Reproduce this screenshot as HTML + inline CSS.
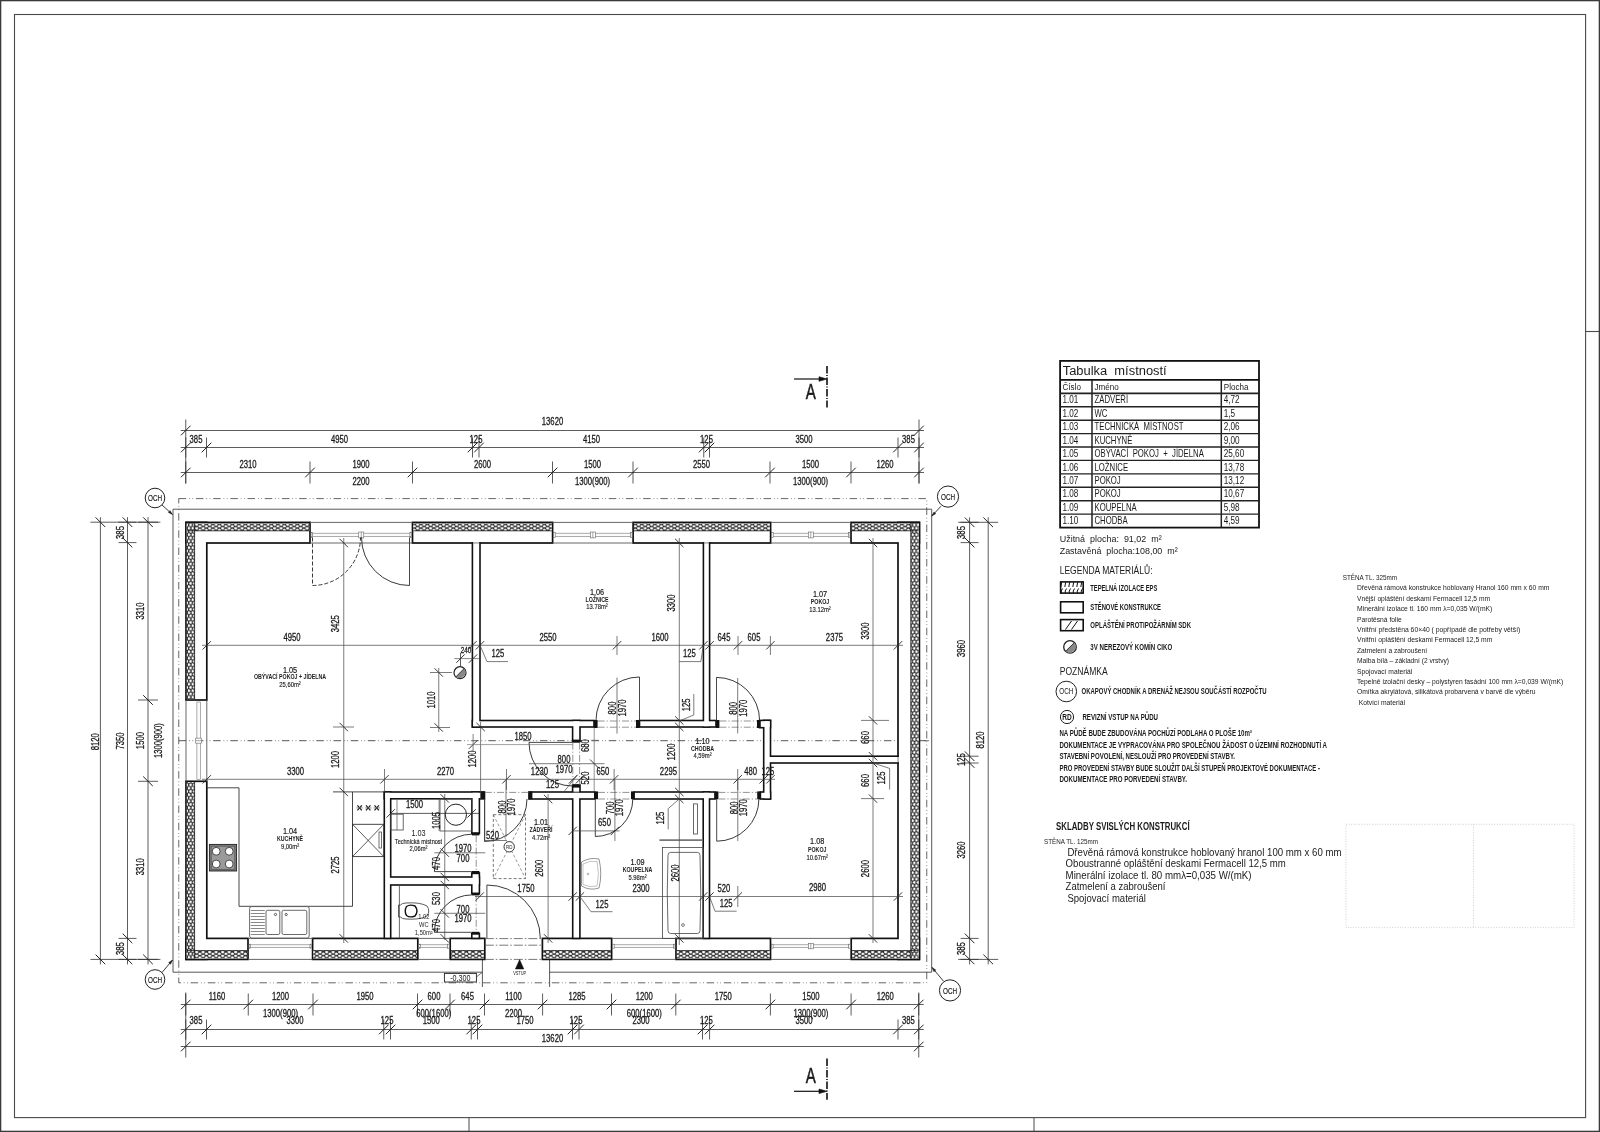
<!DOCTYPE html><html><head><meta charset="utf-8"><title>Půdorys</title><style>html,body{margin:0;padding:0;background:#fff;}svg{display:block;will-change:transform;}</style></head><body>
<svg width="1600" height="1132" viewBox="0 0 1600 1132">
<defs><pattern id="ins" x="0" y="2.31" width="6.5" height="3.75" patternUnits="userSpaceOnUse"><rect width="6.5" height="3.75" fill="#2a2a2a"/><circle cx="1.625" cy="0.9375" r="1.5" fill="#fff"/><circle cx="4.875" cy="2.8125" r="1.5" fill="#fff"/></pattern><pattern id="insv" x="0.4" y="0" width="3.75" height="6.5" patternUnits="userSpaceOnUse"><rect width="3.75" height="6.5" fill="#2a2a2a"/><circle cy="1.625" cx="0.9375" r="1.5" fill="#fff"/><circle cy="4.875" cx="2.8125" r="1.5" fill="#fff"/></pattern><pattern id="leg" x="0" y="0" width="4" height="12" patternUnits="userSpaceOnUse"><rect width="4" height="12" fill="#fff"/><path d="M0.8 11 Q2.2 6 1.2 3 L2.6 0.5" stroke="#111" stroke-width="1.0" fill="none"/></pattern></defs>
<rect width="1600" height="1132" fill="#fff"/>
<rect x="0.6" y="0.6" width="1598.8" height="1130.8" fill="none" stroke="#3a3a3a" stroke-width="1.4"/>
<rect x="14.5" y="14.5" width="1571.1" height="1103.1" fill="none" stroke="#4a4a4a" stroke-width="1.1"/>
<line x1="469" y1="1117.6" x2="469" y2="1131" stroke="#4a4a4a" stroke-width="1" stroke-linecap="butt"/>
<line x1="1034" y1="1117.6" x2="1034" y2="1131" stroke="#4a4a4a" stroke-width="1" stroke-linecap="butt"/>
<line x1="1585.6" y1="331.5" x2="1599" y2="331.5" stroke="#4a4a4a" stroke-width="1.1" stroke-linecap="butt"/>
<path d="M178.75 498.6 H926.75 V982.8 H178.75 Z" fill="none" stroke="#555" stroke-width="0.9" stroke-dasharray="7.5 2.9 0.7 2.6 0.7 2.8"/>
<path d="M482.4 972.2 H173 V509.2 H931.7 V972.2 H549.6" fill="none" stroke="#444" stroke-width="0.9"/>
<line x1="482.4" y1="959.4" x2="482.4" y2="987" stroke="#444" stroke-width="0.9" stroke-linecap="butt"/>
<line x1="549.6" y1="959.4" x2="549.6" y2="987" stroke="#444" stroke-width="0.9" stroke-linecap="butt"/>
<line x1="178.75" y1="740.7" x2="927" y2="740.7" stroke="#444" stroke-width="0.9" stroke-dasharray="7.5 2.9 0.7 2.6 0.7 2.8" stroke-linecap="butt"/>
<line x1="924" y1="740.7" x2="929" y2="740.7" stroke="#555" stroke-width="0.8" stroke-linecap="butt"/>
<rect x="185.15" y="521.55" width="125.7" height="22.3" fill="#111"/>
<rect x="411.65" y="521.55" width="141.8" height="22.3" fill="#111"/>
<rect x="632.25" y="521.55" width="139.2" height="22.3" fill="#111"/>
<rect x="850.15" y="521.55" width="70.1" height="22.3" fill="#111"/>
<rect x="185.15" y="937.55" width="63.7" height="22.7" fill="#111"/>
<rect x="311.75" y="937.55" width="106.9" height="22.7" fill="#111"/>
<rect x="449.35" y="937.55" width="36.3" height="22.7" fill="#111"/>
<rect x="541.55" y="937.55" width="70.9" height="22.7" fill="#111"/>
<rect x="675.15" y="937.55" width="96.2" height="22.7" fill="#111"/>
<rect x="850.35" y="937.55" width="69.9" height="22.7" fill="#111"/>
<rect x="185.15" y="521.55" width="22.5" height="179.3" fill="#111"/>
<rect x="185.15" y="780.45" width="22.5" height="179.8" fill="#111"/>
<rect x="897.15" y="521.55" width="23.1" height="438.7" fill="#111"/>
<rect x="186.85" y="523.25" width="122.3" height="18.9" fill="#fff"/>
<rect x="413.35" y="523.25" width="138.4" height="18.9" fill="#fff"/>
<rect x="633.95" y="523.25" width="135.8" height="18.9" fill="#fff"/>
<rect x="851.85" y="523.25" width="66.7" height="18.9" fill="#fff"/>
<rect x="186.85" y="939.25" width="60.3" height="19.3" fill="#fff"/>
<rect x="313.45" y="939.25" width="103.5" height="19.3" fill="#fff"/>
<rect x="451.05" y="939.25" width="32.9" height="19.3" fill="#fff"/>
<rect x="543.25" y="939.25" width="67.5" height="19.3" fill="#fff"/>
<rect x="676.85" y="939.25" width="92.8" height="19.3" fill="#fff"/>
<rect x="852.05" y="939.25" width="66.5" height="19.3" fill="#fff"/>
<rect x="186.85" y="523.25" width="19.1" height="175.9" fill="#fff"/>
<rect x="186.85" y="782.15" width="19.1" height="176.4" fill="#fff"/>
<rect x="898.85" y="523.25" width="19.7" height="435.3" fill="#fff"/>
<rect x="186.85" y="523.25" width="122.3" height="7.55" fill="url(#ins)"/>
<rect x="413.35" y="523.25" width="138.4" height="7.55" fill="url(#ins)"/>
<rect x="633.95" y="523.25" width="135.8" height="7.55" fill="url(#ins)"/>
<rect x="851.85" y="523.25" width="66.7" height="7.55" fill="url(#ins)"/>
<rect x="186.85" y="950.6" width="60.3" height="7.95" fill="url(#ins)"/>
<rect x="313.45" y="950.6" width="103.5" height="7.95" fill="url(#ins)"/>
<rect x="451.05" y="950.6" width="32.9" height="7.95" fill="url(#ins)"/>
<rect x="543.25" y="950.6" width="67.5" height="7.95" fill="url(#ins)"/>
<rect x="676.85" y="950.6" width="92.8" height="7.95" fill="url(#ins)"/>
<rect x="852.05" y="950.6" width="66.5" height="7.95" fill="url(#ins)"/>
<rect x="186.85" y="523.25" width="7.75" height="175.9" fill="url(#insv)"/>
<rect x="186.85" y="782.15" width="7.75" height="176.4" fill="url(#insv)"/>
<rect x="910.8" y="523.25" width="7.75" height="435.3" fill="url(#insv)"/>
<line x1="186.85" y1="530.8" x2="309.15" y2="530.8" stroke="#111" stroke-width="0.8" stroke-linecap="butt"/>
<line x1="413.35" y1="530.8" x2="551.75" y2="530.8" stroke="#111" stroke-width="0.8" stroke-linecap="butt"/>
<line x1="633.95" y1="530.8" x2="769.75" y2="530.8" stroke="#111" stroke-width="0.8" stroke-linecap="butt"/>
<line x1="851.85" y1="530.8" x2="918.55" y2="530.8" stroke="#111" stroke-width="0.8" stroke-linecap="butt"/>
<line x1="186.85" y1="950.6" x2="247.15" y2="950.6" stroke="#111" stroke-width="0.8" stroke-linecap="butt"/>
<line x1="313.45" y1="950.6" x2="416.95" y2="950.6" stroke="#111" stroke-width="0.8" stroke-linecap="butt"/>
<line x1="451.05" y1="950.6" x2="483.95" y2="950.6" stroke="#111" stroke-width="0.8" stroke-linecap="butt"/>
<line x1="543.25" y1="950.6" x2="610.75" y2="950.6" stroke="#111" stroke-width="0.8" stroke-linecap="butt"/>
<line x1="676.85" y1="950.6" x2="769.65" y2="950.6" stroke="#111" stroke-width="0.8" stroke-linecap="butt"/>
<line x1="852.05" y1="950.6" x2="918.55" y2="950.6" stroke="#111" stroke-width="0.8" stroke-linecap="butt"/>
<line x1="194.6" y1="523.25" x2="194.6" y2="699.15" stroke="#111" stroke-width="0.8" stroke-linecap="butt"/>
<line x1="194.6" y1="782.15" x2="194.6" y2="958.55" stroke="#111" stroke-width="0.8" stroke-linecap="butt"/>
<line x1="910.8" y1="523.25" x2="910.8" y2="958.55" stroke="#111" stroke-width="0.8" stroke-linecap="butt"/>
<line x1="310" y1="522.4" x2="412.5" y2="522.4" stroke="#555" stroke-width="0.9" stroke-linecap="butt"/>
<line x1="310" y1="543" x2="412.5" y2="543" stroke="#555" stroke-width="0.9" stroke-linecap="butt"/>
<rect x="312" y="533.2" width="98.5" height="3.5" fill="#fbfbfb" stroke="#777" stroke-width="0.6"/>
<rect x="311" y="532.6" width="1.6" height="4.7" fill="#fff" stroke="#666" stroke-width="0.6"/>
<rect x="409.9" y="532.6" width="1.6" height="4.7" fill="#fff" stroke="#666" stroke-width="0.6"/>
<rect x="358.75" y="532" width="5" height="5.9" fill="#fff" stroke="#666" stroke-width="0.6"/>
<line x1="361.25" y1="532" x2="361.25" y2="537.9" stroke="#666" stroke-width="0.6" stroke-linecap="butt"/>
<line x1="552.6" y1="522.4" x2="633.1" y2="522.4" stroke="#555" stroke-width="0.9" stroke-linecap="butt"/>
<line x1="552.6" y1="543" x2="633.1" y2="543" stroke="#555" stroke-width="0.9" stroke-linecap="butt"/>
<rect x="554.6" y="533.2" width="76.5" height="3.5" fill="#fbfbfb" stroke="#777" stroke-width="0.6"/>
<rect x="553.6" y="532.6" width="1.6" height="4.7" fill="#fff" stroke="#666" stroke-width="0.6"/>
<rect x="630.5" y="532.6" width="1.6" height="4.7" fill="#fff" stroke="#666" stroke-width="0.6"/>
<rect x="590.35" y="532" width="5" height="5.9" fill="#fff" stroke="#666" stroke-width="0.6"/>
<line x1="592.85" y1="532" x2="592.85" y2="537.9" stroke="#666" stroke-width="0.6" stroke-linecap="butt"/>
<line x1="770.6" y1="522.4" x2="851" y2="522.4" stroke="#555" stroke-width="0.9" stroke-linecap="butt"/>
<line x1="770.6" y1="543" x2="851" y2="543" stroke="#555" stroke-width="0.9" stroke-linecap="butt"/>
<rect x="772.6" y="533.2" width="76.4" height="3.5" fill="#fbfbfb" stroke="#777" stroke-width="0.6"/>
<rect x="771.6" y="532.6" width="1.6" height="4.7" fill="#fff" stroke="#666" stroke-width="0.6"/>
<rect x="848.4" y="532.6" width="1.6" height="4.7" fill="#fff" stroke="#666" stroke-width="0.6"/>
<rect x="808.3" y="532" width="5" height="5.9" fill="#fff" stroke="#666" stroke-width="0.6"/>
<line x1="810.8" y1="532" x2="810.8" y2="537.9" stroke="#666" stroke-width="0.6" stroke-linecap="butt"/>
<line x1="186" y1="700" x2="186" y2="781.3" stroke="#555" stroke-width="0.9" stroke-linecap="butt"/>
<line x1="206.8" y1="700" x2="206.8" y2="781.3" stroke="#555" stroke-width="0.9" stroke-linecap="butt"/>
<rect x="196.9" y="702" width="3.4" height="77.3" fill="#fbfbfb" stroke="#777" stroke-width="0.6"/>
<rect x="195.7" y="738.15" width="5.8" height="5" fill="#fff" stroke="#666" stroke-width="0.6"/>
<line x1="195.7" y1="740.65" x2="201.5" y2="740.65" stroke="#666" stroke-width="0.6" stroke-linecap="butt"/>
<line x1="248" y1="938.4" x2="312.6" y2="938.4" stroke="#555" stroke-width="0.9" stroke-linecap="butt"/>
<line x1="248" y1="959.4" x2="312.6" y2="959.4" stroke="#555" stroke-width="0.9" stroke-linecap="butt"/>
<rect x="250" y="944.8" width="60.6" height="2.8" fill="#fbfbfb" stroke="#777" stroke-width="0.6"/>
<rect x="249" y="944.2" width="1.6" height="4" fill="#fff" stroke="#666" stroke-width="0.6"/>
<rect x="310" y="944.2" width="1.6" height="4" fill="#fff" stroke="#666" stroke-width="0.6"/>
<line x1="417.8" y1="938.4" x2="450.2" y2="938.4" stroke="#555" stroke-width="0.9" stroke-linecap="butt"/>
<line x1="417.8" y1="959.4" x2="450.2" y2="959.4" stroke="#555" stroke-width="0.9" stroke-linecap="butt"/>
<rect x="419.8" y="944.8" width="28.4" height="2.8" fill="#fbfbfb" stroke="#777" stroke-width="0.6"/>
<rect x="418.8" y="944.2" width="1.6" height="4" fill="#fff" stroke="#666" stroke-width="0.6"/>
<rect x="447.6" y="944.2" width="1.6" height="4" fill="#fff" stroke="#666" stroke-width="0.6"/>
<line x1="611.6" y1="938.4" x2="676" y2="938.4" stroke="#555" stroke-width="0.9" stroke-linecap="butt"/>
<line x1="611.6" y1="959.4" x2="676" y2="959.4" stroke="#555" stroke-width="0.9" stroke-linecap="butt"/>
<rect x="613.6" y="944.8" width="60.4" height="2.8" fill="#fbfbfb" stroke="#777" stroke-width="0.6"/>
<rect x="612.6" y="944.2" width="1.6" height="4" fill="#fff" stroke="#666" stroke-width="0.6"/>
<rect x="673.4" y="944.2" width="1.6" height="4" fill="#fff" stroke="#666" stroke-width="0.6"/>
<line x1="770.5" y1="938.4" x2="851.2" y2="938.4" stroke="#555" stroke-width="0.9" stroke-linecap="butt"/>
<line x1="770.5" y1="959.4" x2="851.2" y2="959.4" stroke="#555" stroke-width="0.9" stroke-linecap="butt"/>
<rect x="772.5" y="944.8" width="76.7" height="2.8" fill="#fbfbfb" stroke="#777" stroke-width="0.6"/>
<rect x="771.5" y="944.2" width="1.6" height="4" fill="#fff" stroke="#666" stroke-width="0.6"/>
<rect x="848.6" y="944.2" width="1.6" height="4" fill="#fff" stroke="#666" stroke-width="0.6"/>
<rect x="808.35" y="943.6" width="5" height="5.2" fill="#fff" stroke="#666" stroke-width="0.6"/>
<line x1="810.85" y1="943.6" x2="810.85" y2="948.8" stroke="#666" stroke-width="0.6" stroke-linecap="butt"/>
<line x1="484.8" y1="938.6" x2="542.4" y2="938.6" stroke="#555" stroke-width="0.8" stroke-dasharray="9 2 1.5 2" stroke-linecap="butt"/>
<line x1="484.8" y1="945.2" x2="542.4" y2="945.2" stroke="#555" stroke-width="0.8" stroke-dasharray="9 2 1.5 2" stroke-linecap="butt"/>
<line x1="484.8" y1="959.4" x2="542.4" y2="959.4" stroke="#555" stroke-width="0.8" stroke-dasharray="9 2 1.5 2" stroke-linecap="butt"/>
<rect x="471.6" y="542.2" width="9.2" height="185.6" fill="#111"/>
<rect x="471.6" y="719.7" width="123.2" height="8.1" fill="#111"/>
<rect x="571.8" y="719.7" width="9" height="22.6" fill="#111"/>
<rect x="638.7" y="719.7" width="78.1" height="8.1" fill="#111"/>
<rect x="702.6" y="542.2" width="7.8" height="185.6" fill="#111"/>
<rect x="758.8" y="719.6" width="12.5" height="8.9" fill="#111"/>
<rect x="762.9" y="719.6" width="8.4" height="80.2" fill="#111"/>
<rect x="764.2" y="755.4" width="134.6" height="8.4" fill="#111"/>
<rect x="759.6" y="791.2" width="11.7" height="8.6" fill="#111"/>
<rect x="571.8" y="784.2" width="9" height="9.1" fill="#111"/>
<rect x="383.5" y="791.2" width="101.8" height="8.4" fill="#111"/>
<rect x="528.2" y="791.2" width="67.4" height="8.6" fill="#111"/>
<rect x="633.2" y="791.2" width="82.6" height="8.6" fill="#111"/>
<rect x="383.5" y="791.2" width="8" height="148" fill="#111"/>
<rect x="385.2" y="876.2" width="95" height="9.6" fill="#111"/>
<rect x="471" y="791.2" width="9.2" height="42.9" fill="#111"/>
<rect x="471" y="872.2" width="9.2" height="22.3" fill="#111"/>
<rect x="471" y="932.7" width="9.2" height="6.5" fill="#111"/>
<rect x="571.9" y="791.2" width="8.8" height="148" fill="#111"/>
<rect x="702.4" y="791.2" width="7.9" height="148" fill="#111"/>
<rect x="473.2" y="543.8" width="6" height="182.4" fill="#fff"/>
<rect x="473.2" y="721.3" width="120" height="4.9" fill="#fff"/>
<rect x="573.4" y="721.3" width="5.8" height="19.4" fill="#fff"/>
<rect x="640.3" y="721.3" width="74.9" height="4.9" fill="#fff"/>
<rect x="704.2" y="543.8" width="4.6" height="182.4" fill="#fff"/>
<rect x="760.4" y="721.2" width="9.3" height="5.7" fill="#fff"/>
<rect x="764.5" y="721.2" width="5.2" height="77" fill="#fff"/>
<rect x="765.8" y="757" width="131.4" height="5.2" fill="#fff"/>
<rect x="761.2" y="792.8" width="8.5" height="5.4" fill="#fff"/>
<rect x="573.4" y="785.8" width="5.8" height="5.9" fill="#fff"/>
<rect x="385.1" y="792.8" width="98.6" height="5.2" fill="#fff"/>
<rect x="529.8" y="792.8" width="64.2" height="5.4" fill="#fff"/>
<rect x="634.8" y="792.8" width="79.4" height="5.4" fill="#fff"/>
<rect x="385.1" y="792.8" width="4.8" height="144.8" fill="#fff"/>
<rect x="386.8" y="877.8" width="91.8" height="6.4" fill="#fff"/>
<rect x="472.6" y="792.8" width="6" height="39.7" fill="#fff"/>
<rect x="472.6" y="873.8" width="6" height="19.1" fill="#fff"/>
<rect x="472.6" y="934.3" width="6" height="3.3" fill="#fff"/>
<rect x="573.5" y="792.8" width="5.6" height="144.8" fill="#fff"/>
<rect x="704" y="792.8" width="4.7" height="144.8" fill="#fff"/>
<rect x="473.2" y="541.9" width="6" height="2.2" fill="#fff" fill-opacity="0.7"/>
<rect x="704.2" y="541.9" width="4.6" height="2.2" fill="#fff" fill-opacity="0.7"/>
<rect x="896.9" y="757" width="2.2" height="5.2" fill="#fff" fill-opacity="0.7"/>
<rect x="594" y="720" width="3.6" height="8" fill="#111"/>
<rect x="636" y="720" width="3.6" height="8" fill="#111"/>
<rect x="716" y="720" width="3.4" height="8" fill="#111"/>
<rect x="757" y="720" width="3.6" height="8" fill="#111"/>
<rect x="572.6" y="739.6" width="7.4" height="3" fill="#111"/>
<rect x="572.6" y="784.6" width="7.4" height="3" fill="#111"/>
<rect x="480.6" y="791.4" width="4.2" height="7.8" fill="#111"/>
<rect x="528.6" y="791.4" width="3.8" height="7.8" fill="#111"/>
<rect x="594.4" y="791.4" width="3.6" height="7.8" fill="#111"/>
<rect x="631" y="791.4" width="3.6" height="7.8" fill="#111"/>
<rect x="714.8" y="791.4" width="3.6" height="7.8" fill="#111"/>
<rect x="757.2" y="791.4" width="3.6" height="7.8" fill="#111"/>
<rect x="471.8" y="832.4" width="7.6" height="3" fill="#111"/>
<rect x="471.8" y="871" width="7.6" height="3.2" fill="#111"/>
<rect x="471.8" y="892.6" width="7.6" height="2.8" fill="#111"/>
<rect x="471.8" y="931.8" width="7.6" height="2.8" fill="#111"/>
<line x1="597.6" y1="721" x2="636" y2="721" stroke="#666" stroke-width="0.7" stroke-dasharray="7 2 1.2 2" stroke-linecap="butt"/>
<line x1="597.6" y1="727.2" x2="636" y2="727.2" stroke="#666" stroke-width="0.7" stroke-dasharray="7 2 1.2 2" stroke-linecap="butt"/>
<line x1="719.4" y1="721" x2="757" y2="721" stroke="#666" stroke-width="0.7" stroke-dasharray="7 2 1.2 2" stroke-linecap="butt"/>
<line x1="719.4" y1="727.2" x2="757" y2="727.2" stroke="#666" stroke-width="0.7" stroke-dasharray="7 2 1.2 2" stroke-linecap="butt"/>
<line x1="484.8" y1="792.4" x2="528.6" y2="792.4" stroke="#666" stroke-width="0.7" stroke-dasharray="7 2 1.2 2" stroke-linecap="butt"/>
<line x1="598" y1="792.4" x2="631" y2="792.4" stroke="#666" stroke-width="0.7" stroke-dasharray="7 2 1.2 2" stroke-linecap="butt"/>
<line x1="598" y1="799" x2="631" y2="799" stroke="#666" stroke-width="0.7" stroke-dasharray="7 2 1.2 2" stroke-linecap="butt"/>
<line x1="718.4" y1="792.4" x2="757.2" y2="792.4" stroke="#666" stroke-width="0.7" stroke-dasharray="7 2 1.2 2" stroke-linecap="butt"/>
<line x1="718.4" y1="799" x2="757.2" y2="799" stroke="#666" stroke-width="0.7" stroke-dasharray="7 2 1.2 2" stroke-linecap="butt"/>
<line x1="476.2" y1="835.4" x2="476.2" y2="871" stroke="#666" stroke-width="0.7" stroke-dasharray="7 2 1.2 2" stroke-linecap="butt"/>
<line x1="476.2" y1="895.4" x2="476.2" y2="931.8" stroke="#666" stroke-width="0.7" stroke-dasharray="7 2 1.2 2" stroke-linecap="butt"/>
<line x1="572.8" y1="742.6" x2="572.8" y2="784.6" stroke="#666" stroke-width="0.7" stroke-dasharray="7 2 1.2 2" stroke-linecap="butt"/>
<line x1="579.6" y1="742.6" x2="579.6" y2="784.6" stroke="#666" stroke-width="0.7" stroke-dasharray="7 2 1.2 2" stroke-linecap="butt"/>
<line x1="312.5" y1="537.5" x2="312.5" y2="585.5" stroke="#222" stroke-width="0.9" stroke-dasharray="4 2" stroke-linecap="butt"/>
<path d="M312.5 585.5 A48 48 0 0 0 360.5 537.5" fill="none" stroke="#222" stroke-width="0.9" stroke-dasharray="4 2"/>
<line x1="409.5" y1="537.5" x2="409.5" y2="585.5" stroke="#333" stroke-width="0.9" stroke-linecap="butt"/>
<path d="M409.5 585.5 A48 48 0 0 1 361.5 537.5" fill="none" stroke="#222" stroke-width="0.9"/>
<line x1="639.5" y1="720.5" x2="639.5" y2="677" stroke="#333" stroke-width="0.9" stroke-linecap="butt"/>
<path d="M639.5 677 A43.5 43.5 0 0 0 596 720.5" fill="none" stroke="#222" stroke-width="0.9"/>
<line x1="716.5" y1="720.5" x2="716.5" y2="677.4" stroke="#333" stroke-width="0.9" stroke-linecap="butt"/>
<path d="M716.5 677.4 A43.1 43.1 0 0 1 759.6 720.5" fill="none" stroke="#222" stroke-width="0.9"/>
<line x1="529" y1="742.4" x2="572.6" y2="742.4" stroke="#333" stroke-width="0.9" stroke-linecap="butt"/>
<path d="M529 742.4 A43.6 43.6 0 0 0 572.6 786" fill="none" stroke="#222" stroke-width="0.9"/>
<line x1="484.5" y1="799" x2="484.5" y2="841.5" stroke="#333" stroke-width="0.9" stroke-linecap="butt"/>
<path d="M527 799 A42.5 42.5 0 0 1 484.5 841.5" fill="none" stroke="#222" stroke-width="0.9"/>
<line x1="471.8" y1="871.6" x2="434.4" y2="871.6" stroke="#333" stroke-width="0.9" stroke-linecap="butt"/>
<path d="M434.4 871.6 A37.4 37.4 0 0 1 471.8 834.2" fill="none" stroke="#222" stroke-width="0.9"/>
<line x1="471.8" y1="932.3" x2="434.4" y2="932.3" stroke="#333" stroke-width="0.9" stroke-linecap="butt"/>
<path d="M434.4 932.3 A37.4 37.4 0 0 1 471.8 894.9" fill="none" stroke="#222" stroke-width="0.9"/>
<line x1="486.9" y1="938.4" x2="486.9" y2="885" stroke="#333" stroke-width="0.9" stroke-linecap="butt"/>
<path d="M486.9 885 A53.4 53.4 0 0 1 540.3 938.4" fill="none" stroke="#222" stroke-width="0.9"/>
<line x1="595.3" y1="799" x2="595.3" y2="836.5" stroke="#333" stroke-width="0.9" stroke-linecap="butt"/>
<path d="M595.3 836.5 A37.5 37.5 0 0 0 632.8 799" fill="none" stroke="#222" stroke-width="0.9"/>
<line x1="716.7" y1="799" x2="716.7" y2="841.2" stroke="#333" stroke-width="0.9" stroke-linecap="butt"/>
<path d="M716.7 841.2 A42.2 42.2 0 0 0 758.9 799" fill="none" stroke="#222" stroke-width="0.9"/>
<line x1="239" y1="787.8" x2="239" y2="906.3" stroke="#333" stroke-width="0.9" stroke-linecap="butt"/>
<line x1="206.8" y1="787.8" x2="239" y2="787.8" stroke="#333" stroke-width="0.9" stroke-linecap="butt"/>
<line x1="239" y1="906.3" x2="352.5" y2="906.3" stroke="#333" stroke-width="0.9" stroke-linecap="butt"/>
<line x1="352.5" y1="791.9" x2="352.5" y2="906.3" stroke="#333" stroke-width="0.9" stroke-linecap="butt"/>
<line x1="333" y1="791.9" x2="384.3" y2="791.9" stroke="#333" stroke-width="0.9" stroke-linecap="butt"/>
<rect x="352.5" y="824.3" width="31.3" height="32.3" fill="none" stroke="#333" stroke-width="0.9"/>
<line x1="352.5" y1="824.3" x2="383.8" y2="856.6" stroke="#333" stroke-width="0.8" stroke-linecap="butt"/>
<line x1="352.5" y1="856.6" x2="383.8" y2="824.3" stroke="#333" stroke-width="0.8" stroke-linecap="butt"/>
<rect x="379" y="832" width="2.6" height="16" fill="#fff" stroke="#333" stroke-width="0.7"/>
<line x1="357.4" y1="805.4" x2="361.8" y2="810.4" stroke="#111" stroke-width="1.1" stroke-linecap="butt"/>
<line x1="357.4" y1="810.4" x2="361.8" y2="805.4" stroke="#111" stroke-width="1.1" stroke-linecap="butt"/>
<line x1="356.3" y1="807.9" x2="362.9" y2="807.9" stroke="#777" stroke-width="0.8" stroke-linecap="butt"/>
<line x1="366" y1="805.4" x2="370.4" y2="810.4" stroke="#111" stroke-width="1.1" stroke-linecap="butt"/>
<line x1="366" y1="810.4" x2="370.4" y2="805.4" stroke="#111" stroke-width="1.1" stroke-linecap="butt"/>
<line x1="364.9" y1="807.9" x2="371.5" y2="807.9" stroke="#777" stroke-width="0.8" stroke-linecap="butt"/>
<line x1="374.5" y1="805.4" x2="378.9" y2="810.4" stroke="#111" stroke-width="1.1" stroke-linecap="butt"/>
<line x1="374.5" y1="810.4" x2="378.9" y2="805.4" stroke="#111" stroke-width="1.1" stroke-linecap="butt"/>
<line x1="373.4" y1="807.9" x2="380" y2="807.9" stroke="#777" stroke-width="0.8" stroke-linecap="butt"/>
<rect x="209.4" y="844.4" width="27.2" height="26.6" fill="#7a7a7a" stroke="#222" stroke-width="0.9"/>
<rect x="211.2" y="846.2" width="23.6" height="23" fill="#9a9a9a" stroke="#444" stroke-width="0.5"/>
<circle cx="216.2" cy="851.3" r="3.9" fill="#fff" stroke="#222" stroke-width="0.8"/>
<circle cx="229.2" cy="851.3" r="3.9" fill="#fff" stroke="#222" stroke-width="0.8"/>
<circle cx="216.2" cy="864" r="3.9" fill="#fff" stroke="#222" stroke-width="0.8"/>
<circle cx="229.2" cy="864" r="3.9" fill="#fff" stroke="#222" stroke-width="0.8"/>
<rect x="249.6" y="906.6" width="59.6" height="31.4" fill="#fff" stroke="#444" stroke-width="0.8" rx="2"/>
<line x1="250.8" y1="910.5" x2="264.8" y2="910.5" stroke="#555" stroke-width="0.7" stroke-linecap="butt"/>
<line x1="250.8" y1="913.5" x2="264.8" y2="913.5" stroke="#555" stroke-width="0.7" stroke-linecap="butt"/>
<line x1="250.8" y1="916.5" x2="264.8" y2="916.5" stroke="#555" stroke-width="0.7" stroke-linecap="butt"/>
<line x1="250.8" y1="919.5" x2="264.8" y2="919.5" stroke="#555" stroke-width="0.7" stroke-linecap="butt"/>
<line x1="250.8" y1="922.5" x2="264.8" y2="922.5" stroke="#555" stroke-width="0.7" stroke-linecap="butt"/>
<line x1="250.8" y1="925.5" x2="264.8" y2="925.5" stroke="#555" stroke-width="0.7" stroke-linecap="butt"/>
<line x1="250.8" y1="928.5" x2="264.8" y2="928.5" stroke="#555" stroke-width="0.7" stroke-linecap="butt"/>
<line x1="250.8" y1="931.5" x2="264.8" y2="931.5" stroke="#555" stroke-width="0.7" stroke-linecap="butt"/>
<line x1="250.8" y1="934.5" x2="264.8" y2="934.5" stroke="#555" stroke-width="0.7" stroke-linecap="butt"/>
<rect x="266" y="910.3" width="13.8" height="24.2" fill="none" stroke="#444" stroke-width="0.8" rx="1.6"/>
<rect x="282" y="910.3" width="24.8" height="24.2" fill="none" stroke="#444" stroke-width="0.8" rx="1.6"/>
<circle cx="275.5" cy="914.5" r="1.1" fill="none" stroke="#333" stroke-width="0.8"/>
<circle cx="286.2" cy="914.5" r="1.1" fill="none" stroke="#333" stroke-width="0.8"/>
<line x1="390.7" y1="813.4" x2="479" y2="813.4" stroke="#333" stroke-width="0.8" stroke-linecap="butt"/>
<rect x="440" y="798.8" width="31.8" height="32.2" fill="none" stroke="#444" stroke-width="0.8"/>
<circle cx="455.9" cy="814.7" r="10.6" fill="none" stroke="#222" stroke-width="1"/>
<rect x="390.7" y="814.2" width="12.5" height="15.8" fill="none" stroke="#444" stroke-width="0.8"/>
<line x1="397" y1="798.8" x2="397" y2="830" stroke="#555" stroke-width="0.7" stroke-linecap="butt"/>
<line x1="439.1" y1="798.8" x2="439.1" y2="831" stroke="#555" stroke-width="0.7" stroke-linecap="butt"/>
<line x1="399.4" y1="885" x2="399.4" y2="938.4" stroke="#444" stroke-width="0.8" stroke-linecap="butt"/>
<path d="M398.5 905 L400.5 905 Q402 903 406 903 Q420 902 427 906 Q430.5 911 427 916 Q420 920 406 919 Q402 919 400.5 917 L398.5 917 Z" fill="none" stroke="#333" stroke-width="0.8"/>
<path d="M406.5 906.5 Q410 904 415 906 Q419 911 415 916 Q410 918 406.5 915.5 Q404 911 406.5 906.5 Z" fill="none" stroke="#111" stroke-width="1.4"/>
<rect x="493.3" y="814.7" width="32.2" height="63.9" fill="none" stroke="#555" stroke-width="0.8" stroke-dasharray="3 2"/>
<line x1="493.3" y1="814.7" x2="525.5" y2="878.6" stroke="#555" stroke-width="0.6" stroke-dasharray="3 2" stroke-linecap="butt"/>
<line x1="525.5" y1="814.7" x2="493.3" y2="878.6" stroke="#555" stroke-width="0.6" stroke-dasharray="3 2" stroke-linecap="butt"/>
<circle cx="509.2" cy="846.8" r="5.2" fill="#fff" stroke="#222" stroke-width="0.9"/>
<text style="white-space:pre" transform="translate(509.2,846.8) scale(0.85,1)" x="0" y="1.87" font-family="Liberation Sans" font-size="5.2" text-anchor="middle" font-weight="normal" fill="#1a1a1a">RD</text>
<rect x="662.6" y="847.6" width="40.6" height="90.8" fill="none" stroke="#444" stroke-width="0.8"/>
<path d="M670.5 852.4 H697.5 Q700 852.4 700 855.5 Q701.5 893 700 930.5 Q700 933.5 697.5 933.5 H670.5 Q668 933.5 668 930.5 Q666.5 893 668 855.5 Q668 852.4 670.5 852.4 Z" fill="none" stroke="#444" stroke-width="0.8"/>
<circle cx="683" cy="925" r="1.4" fill="none" stroke="#444" stroke-width="0.7"/>
<line x1="659.4" y1="840.1" x2="703" y2="840.1" stroke="#777" stroke-width="1.6" stroke-linecap="butt"/>
<rect x="693.6" y="803.9" width="4" height="30.1" fill="none" stroke="#444" stroke-width="0.8"/>
<path d="M581.5 862 Q590 857 599 859 Q602.5 874 599 888 Q590 891 581.5 886 Z" fill="none" stroke="#666" stroke-width="0.7"/>
<path d="M583 864 Q590 860 597 861.5 Q600 874 597 886 Q590 888 583 884.5 Z" fill="none" stroke="#888" stroke-width="0.5"/>
<circle cx="588" cy="874" r="0.8" fill="none" stroke="#666" stroke-width="0.5"/>
<circle cx="460" cy="672.7" r="6" fill="#fff" stroke="#222" stroke-width="1.2"/>
<path d="M455.8 676.9 L464.2 668.5 A6 6 0 0 1 455.8 676.9 Z" fill="#888" stroke="none" stroke-width="1"/>
<line x1="455.8" y1="676.9" x2="464.2" y2="668.5" stroke="#222" stroke-width="0.9" stroke-linecap="butt"/>
<text style="white-space:pre" transform="translate(290,669.5) scale(0.78,1)" x="0" y="3.38" font-family="Liberation Sans" font-size="9.4" text-anchor="middle" font-weight="normal" fill="#1a1a1a" stroke="#1a1a1a" stroke-width="0.2">1.05</text>
<text style="white-space:pre" transform="translate(290,677.1) scale(0.8,1)" x="0" y="2.38" font-family="Liberation Sans" font-size="6.6" text-anchor="middle" font-weight="bold" fill="#1a1a1a">OBÝVACÍ POKOJ + JÍDELNA</text>
<text style="white-space:pre" transform="translate(290,684.5) scale(0.78,1)" x="0" y="2.7" font-family="Liberation Sans" font-size="7.5" text-anchor="middle" font-weight="normal" fill="#1a1a1a" stroke="#1a1a1a" stroke-width="0.15">25,60m²</text>
<text style="white-space:pre" transform="translate(290,830.5) scale(0.78,1)" x="0" y="3.38" font-family="Liberation Sans" font-size="9.4" text-anchor="middle" font-weight="normal" fill="#1a1a1a" stroke="#1a1a1a" stroke-width="0.2">1.04</text>
<text style="white-space:pre" transform="translate(290,838.8) scale(0.8,1)" x="0" y="2.38" font-family="Liberation Sans" font-size="6.6" text-anchor="middle" font-weight="bold" fill="#1a1a1a">KUCHYNĚ</text>
<text style="white-space:pre" transform="translate(290,846.3) scale(0.78,1)" x="0" y="2.7" font-family="Liberation Sans" font-size="7.5" text-anchor="middle" font-weight="normal" fill="#1a1a1a" stroke="#1a1a1a" stroke-width="0.15">9,00m²</text>
<text style="white-space:pre" transform="translate(597,591.6) scale(0.78,1)" x="0" y="3.38" font-family="Liberation Sans" font-size="9.4" text-anchor="middle" font-weight="normal" fill="#1a1a1a" stroke="#1a1a1a" stroke-width="0.2">1,06</text>
<text style="white-space:pre" transform="translate(597,599.4) scale(0.8,1)" x="0" y="2.38" font-family="Liberation Sans" font-size="6.6" text-anchor="middle" font-weight="bold" fill="#1a1a1a">LOŽNICE</text>
<text style="white-space:pre" transform="translate(597,606.6) scale(0.78,1)" x="0" y="2.7" font-family="Liberation Sans" font-size="7.5" text-anchor="middle" font-weight="normal" fill="#1a1a1a" stroke="#1a1a1a" stroke-width="0.15">13.78m²</text>
<text style="white-space:pre" transform="translate(820,593.6) scale(0.78,1)" x="0" y="3.38" font-family="Liberation Sans" font-size="9.4" text-anchor="middle" font-weight="normal" fill="#1a1a1a" stroke="#1a1a1a" stroke-width="0.2">1.07</text>
<text style="white-space:pre" transform="translate(820,601.6) scale(0.8,1)" x="0" y="2.38" font-family="Liberation Sans" font-size="6.6" text-anchor="middle" font-weight="bold" fill="#1a1a1a">POKOJ</text>
<text style="white-space:pre" transform="translate(820,609) scale(0.78,1)" x="0" y="2.7" font-family="Liberation Sans" font-size="7.5" text-anchor="middle" font-weight="normal" fill="#1a1a1a" stroke="#1a1a1a" stroke-width="0.15">13.12m²</text>
<text style="white-space:pre" transform="translate(817.2,841) scale(0.78,1)" x="0" y="3.38" font-family="Liberation Sans" font-size="9.4" text-anchor="middle" font-weight="normal" fill="#1a1a1a" stroke="#1a1a1a" stroke-width="0.2">1.08</text>
<text style="white-space:pre" transform="translate(817.2,849.8) scale(0.8,1)" x="0" y="2.38" font-family="Liberation Sans" font-size="6.6" text-anchor="middle" font-weight="bold" fill="#1a1a1a">POKOJ</text>
<text style="white-space:pre" transform="translate(817.2,857.2) scale(0.78,1)" x="0" y="2.7" font-family="Liberation Sans" font-size="7.5" text-anchor="middle" font-weight="normal" fill="#1a1a1a" stroke="#1a1a1a" stroke-width="0.15">10.67m²</text>
<text style="white-space:pre" transform="translate(637.5,862) scale(0.78,1)" x="0" y="3.38" font-family="Liberation Sans" font-size="9.4" text-anchor="middle" font-weight="normal" fill="#1a1a1a" stroke="#1a1a1a" stroke-width="0.2">1.09</text>
<text style="white-space:pre" transform="translate(637.5,869.9) scale(0.8,1)" x="0" y="2.38" font-family="Liberation Sans" font-size="6.6" text-anchor="middle" font-weight="bold" fill="#1a1a1a">KOUPELNA</text>
<text style="white-space:pre" transform="translate(637.5,877) scale(0.78,1)" x="0" y="2.7" font-family="Liberation Sans" font-size="7.5" text-anchor="middle" font-weight="normal" fill="#1a1a1a" stroke="#1a1a1a" stroke-width="0.15">5.98m²</text>
<text style="white-space:pre" transform="translate(702.5,740.6) scale(0.78,1)" x="0" y="3.38" font-family="Liberation Sans" font-size="9.4" text-anchor="middle" font-weight="normal" fill="#1a1a1a" stroke="#1a1a1a" stroke-width="0.2">1.10</text>
<text style="white-space:pre" transform="translate(702.5,748.5) scale(0.8,1)" x="0" y="2.38" font-family="Liberation Sans" font-size="6.6" text-anchor="middle" font-weight="bold" fill="#1a1a1a">CHODBA</text>
<text style="white-space:pre" transform="translate(702.5,755.5) scale(0.78,1)" x="0" y="2.7" font-family="Liberation Sans" font-size="7.5" text-anchor="middle" font-weight="normal" fill="#1a1a1a" stroke="#1a1a1a" stroke-width="0.15">4,59m²</text>
<text style="white-space:pre" transform="translate(541,821.7) scale(0.78,1)" x="0" y="3.38" font-family="Liberation Sans" font-size="9.4" text-anchor="middle" font-weight="normal" fill="#1a1a1a" stroke="#1a1a1a" stroke-width="0.2">1.01</text>
<text style="white-space:pre" transform="translate(541,830) scale(0.8,1)" x="0" y="2.38" font-family="Liberation Sans" font-size="6.6" text-anchor="middle" font-weight="bold" fill="#1a1a1a">ZÁDVEŘÍ</text>
<text style="white-space:pre" transform="translate(541,837.3) scale(0.78,1)" x="0" y="2.7" font-family="Liberation Sans" font-size="7.5" text-anchor="middle" font-weight="normal" fill="#1a1a1a" stroke="#1a1a1a" stroke-width="0.15">4.72m²</text>
<text style="white-space:pre" transform="translate(418.5,832.5) scale(0.85,1)" x="0" y="3.1" font-family="Liberation Sans" font-size="8.6" text-anchor="middle" font-weight="normal" fill="#1a1a1a">1.03</text>
<text style="white-space:pre" transform="translate(418.5,841.2) scale(0.82,1)" x="0" y="2.45" font-family="Liberation Sans" font-size="6.8" text-anchor="middle" font-weight="normal" fill="#1a1a1a" stroke="#1a1a1a" stroke-width="0.15">Technická místnost</text>
<text style="white-space:pre" transform="translate(418.5,848) scale(0.8,1)" x="0" y="2.59" font-family="Liberation Sans" font-size="7.2" text-anchor="middle" font-weight="normal" fill="#1a1a1a" stroke="#1a1a1a" stroke-width="0.15">2,06m²</text>
<text style="white-space:pre" transform="translate(423.8,916.8) scale(0.85,1)" x="0" y="2.45" font-family="Liberation Sans" font-size="6.8" text-anchor="middle" font-weight="normal" fill="#1a1a1a">1.02</text>
<text style="white-space:pre" transform="translate(423.8,925) scale(0.85,1)" x="0" y="2.45" font-family="Liberation Sans" font-size="6.8" text-anchor="middle" font-weight="normal" fill="#1a1a1a">WC</text>
<text style="white-space:pre" transform="translate(423.8,932.4) scale(0.85,1)" x="0" y="2.45" font-family="Liberation Sans" font-size="6.8" text-anchor="middle" font-weight="normal" fill="#1a1a1a">1,50m²</text>
<line x1="180.75" y1="430.5" x2="924" y2="430.5" stroke="#333" stroke-width="0.8" stroke-linecap="butt"/>
<line x1="185.75" y1="419.5" x2="185.75" y2="483.5" stroke="#333" stroke-width="0.8" stroke-linecap="butt"/>
<line x1="180.95" y1="435.3" x2="190.55" y2="425.7" stroke="#222" stroke-width="1" stroke-linecap="butt"/>
<line x1="919" y1="419.5" x2="919" y2="483.5" stroke="#333" stroke-width="0.8" stroke-linecap="butt"/>
<line x1="914.2" y1="435.3" x2="923.8" y2="425.7" stroke="#222" stroke-width="1" stroke-linecap="butt"/>
<text style="white-space:pre" transform="translate(552.5,421.6) scale(0.74,1)" x="0" y="3.74" font-family="Liberation Sans" font-size="10.4" text-anchor="middle" font-weight="normal" fill="#1a1a1a" stroke="#1a1a1a" stroke-width="0.3">13620</text>
<line x1="180.75" y1="447.5" x2="924" y2="447.5" stroke="#333" stroke-width="0.8" stroke-linecap="butt"/>
<line x1="185.75" y1="437.5" x2="185.75" y2="457.5" stroke="#333" stroke-width="0.8" stroke-linecap="butt"/>
<line x1="180.95" y1="452.3" x2="190.55" y2="442.7" stroke="#222" stroke-width="1" stroke-linecap="butt"/>
<line x1="206.5" y1="437.5" x2="206.5" y2="457.5" stroke="#333" stroke-width="0.8" stroke-linecap="butt"/>
<line x1="201.7" y1="452.3" x2="211.3" y2="442.7" stroke="#222" stroke-width="1" stroke-linecap="butt"/>
<line x1="472.5" y1="437.5" x2="472.5" y2="457.5" stroke="#333" stroke-width="0.8" stroke-linecap="butt"/>
<line x1="467.7" y1="452.3" x2="477.3" y2="442.7" stroke="#222" stroke-width="1" stroke-linecap="butt"/>
<line x1="479" y1="437.5" x2="479" y2="457.5" stroke="#333" stroke-width="0.8" stroke-linecap="butt"/>
<line x1="474.2" y1="452.3" x2="483.8" y2="442.7" stroke="#222" stroke-width="1" stroke-linecap="butt"/>
<line x1="703.75" y1="437.5" x2="703.75" y2="457.5" stroke="#333" stroke-width="0.8" stroke-linecap="butt"/>
<line x1="698.95" y1="452.3" x2="708.55" y2="442.7" stroke="#222" stroke-width="1" stroke-linecap="butt"/>
<line x1="709.5" y1="437.5" x2="709.5" y2="457.5" stroke="#333" stroke-width="0.8" stroke-linecap="butt"/>
<line x1="704.7" y1="452.3" x2="714.3" y2="442.7" stroke="#222" stroke-width="1" stroke-linecap="butt"/>
<line x1="898" y1="437.5" x2="898" y2="457.5" stroke="#333" stroke-width="0.8" stroke-linecap="butt"/>
<line x1="893.2" y1="452.3" x2="902.8" y2="442.7" stroke="#222" stroke-width="1" stroke-linecap="butt"/>
<line x1="919" y1="437.5" x2="919" y2="457.5" stroke="#333" stroke-width="0.8" stroke-linecap="butt"/>
<line x1="914.2" y1="452.3" x2="923.8" y2="442.7" stroke="#222" stroke-width="1" stroke-linecap="butt"/>
<text style="white-space:pre" transform="translate(196,439.2) scale(0.74,1)" x="0" y="3.74" font-family="Liberation Sans" font-size="10.4" text-anchor="middle" font-weight="normal" fill="#1a1a1a" stroke="#1a1a1a" stroke-width="0.3">385</text>
<text style="white-space:pre" transform="translate(339.5,439.2) scale(0.74,1)" x="0" y="3.74" font-family="Liberation Sans" font-size="10.4" text-anchor="middle" font-weight="normal" fill="#1a1a1a" stroke="#1a1a1a" stroke-width="0.3">4950</text>
<text style="white-space:pre" transform="translate(476,439.2) scale(0.74,1)" x="0" y="3.74" font-family="Liberation Sans" font-size="10.4" text-anchor="middle" font-weight="normal" fill="#1a1a1a" stroke="#1a1a1a" stroke-width="0.3">125</text>
<text style="white-space:pre" transform="translate(591.5,439.2) scale(0.74,1)" x="0" y="3.74" font-family="Liberation Sans" font-size="10.4" text-anchor="middle" font-weight="normal" fill="#1a1a1a" stroke="#1a1a1a" stroke-width="0.3">4150</text>
<text style="white-space:pre" transform="translate(706.5,439.2) scale(0.74,1)" x="0" y="3.74" font-family="Liberation Sans" font-size="10.4" text-anchor="middle" font-weight="normal" fill="#1a1a1a" stroke="#1a1a1a" stroke-width="0.3">125</text>
<text style="white-space:pre" transform="translate(804,439.2) scale(0.74,1)" x="0" y="3.74" font-family="Liberation Sans" font-size="10.4" text-anchor="middle" font-weight="normal" fill="#1a1a1a" stroke="#1a1a1a" stroke-width="0.3">3500</text>
<text style="white-space:pre" transform="translate(908.5,439.2) scale(0.74,1)" x="0" y="3.74" font-family="Liberation Sans" font-size="10.4" text-anchor="middle" font-weight="normal" fill="#1a1a1a" stroke="#1a1a1a" stroke-width="0.3">385</text>
<line x1="180.75" y1="472.5" x2="924" y2="472.5" stroke="#333" stroke-width="0.8" stroke-linecap="butt"/>
<line x1="185.75" y1="461.5" x2="185.75" y2="483.5" stroke="#333" stroke-width="0.8" stroke-linecap="butt"/>
<line x1="180.95" y1="477.3" x2="190.55" y2="467.7" stroke="#222" stroke-width="1" stroke-linecap="butt"/>
<line x1="310" y1="461.5" x2="310" y2="483.5" stroke="#333" stroke-width="0.8" stroke-linecap="butt"/>
<line x1="305.2" y1="477.3" x2="314.8" y2="467.7" stroke="#222" stroke-width="1" stroke-linecap="butt"/>
<line x1="412.5" y1="461.5" x2="412.5" y2="483.5" stroke="#333" stroke-width="0.8" stroke-linecap="butt"/>
<line x1="407.7" y1="477.3" x2="417.3" y2="467.7" stroke="#222" stroke-width="1" stroke-linecap="butt"/>
<line x1="552.5" y1="461.5" x2="552.5" y2="483.5" stroke="#333" stroke-width="0.8" stroke-linecap="butt"/>
<line x1="547.7" y1="477.3" x2="557.3" y2="467.7" stroke="#222" stroke-width="1" stroke-linecap="butt"/>
<line x1="633" y1="461.5" x2="633" y2="483.5" stroke="#333" stroke-width="0.8" stroke-linecap="butt"/>
<line x1="628.2" y1="477.3" x2="637.8" y2="467.7" stroke="#222" stroke-width="1" stroke-linecap="butt"/>
<line x1="770" y1="461.5" x2="770" y2="483.5" stroke="#333" stroke-width="0.8" stroke-linecap="butt"/>
<line x1="765.2" y1="477.3" x2="774.8" y2="467.7" stroke="#222" stroke-width="1" stroke-linecap="butt"/>
<line x1="851" y1="461.5" x2="851" y2="483.5" stroke="#333" stroke-width="0.8" stroke-linecap="butt"/>
<line x1="846.2" y1="477.3" x2="855.8" y2="467.7" stroke="#222" stroke-width="1" stroke-linecap="butt"/>
<line x1="919" y1="461.5" x2="919" y2="483.5" stroke="#333" stroke-width="0.8" stroke-linecap="butt"/>
<line x1="914.2" y1="477.3" x2="923.8" y2="467.7" stroke="#222" stroke-width="1" stroke-linecap="butt"/>
<text style="white-space:pre" transform="translate(248,464.2) scale(0.74,1)" x="0" y="3.74" font-family="Liberation Sans" font-size="10.4" text-anchor="middle" font-weight="normal" fill="#1a1a1a" stroke="#1a1a1a" stroke-width="0.3">2310</text>
<text style="white-space:pre" transform="translate(361,464.2) scale(0.74,1)" x="0" y="3.74" font-family="Liberation Sans" font-size="10.4" text-anchor="middle" font-weight="normal" fill="#1a1a1a" stroke="#1a1a1a" stroke-width="0.3">1900</text>
<text style="white-space:pre" transform="translate(482.5,464.2) scale(0.74,1)" x="0" y="3.74" font-family="Liberation Sans" font-size="10.4" text-anchor="middle" font-weight="normal" fill="#1a1a1a" stroke="#1a1a1a" stroke-width="0.3">2600</text>
<text style="white-space:pre" transform="translate(592.5,464.2) scale(0.74,1)" x="0" y="3.74" font-family="Liberation Sans" font-size="10.4" text-anchor="middle" font-weight="normal" fill="#1a1a1a" stroke="#1a1a1a" stroke-width="0.3">1500</text>
<text style="white-space:pre" transform="translate(701.5,464.2) scale(0.74,1)" x="0" y="3.74" font-family="Liberation Sans" font-size="10.4" text-anchor="middle" font-weight="normal" fill="#1a1a1a" stroke="#1a1a1a" stroke-width="0.3">2550</text>
<text style="white-space:pre" transform="translate(810.5,464.2) scale(0.74,1)" x="0" y="3.74" font-family="Liberation Sans" font-size="10.4" text-anchor="middle" font-weight="normal" fill="#1a1a1a" stroke="#1a1a1a" stroke-width="0.3">1500</text>
<text style="white-space:pre" transform="translate(885,464.2) scale(0.74,1)" x="0" y="3.74" font-family="Liberation Sans" font-size="10.4" text-anchor="middle" font-weight="normal" fill="#1a1a1a" stroke="#1a1a1a" stroke-width="0.3">1260</text>
<text style="white-space:pre" transform="translate(361,481.6) scale(0.74,1)" x="0" y="3.74" font-family="Liberation Sans" font-size="10.4" text-anchor="middle" font-weight="normal" fill="#1a1a1a" stroke="#1a1a1a" stroke-width="0.3">2200</text>
<text style="white-space:pre" transform="translate(592.5,481.6) scale(0.74,1)" x="0" y="3.74" font-family="Liberation Sans" font-size="10.4" text-anchor="middle" font-weight="normal" fill="#1a1a1a" stroke="#1a1a1a" stroke-width="0.3">1300(900)</text>
<text style="white-space:pre" transform="translate(810.5,481.6) scale(0.74,1)" x="0" y="3.74" font-family="Liberation Sans" font-size="10.4" text-anchor="middle" font-weight="normal" fill="#1a1a1a" stroke="#1a1a1a" stroke-width="0.3">1300(900)</text>
<line x1="180.75" y1="1004.5" x2="923.75" y2="1004.5" stroke="#333" stroke-width="0.8" stroke-linecap="butt"/>
<line x1="185.75" y1="993.5" x2="185.75" y2="1015.5" stroke="#333" stroke-width="0.8" stroke-linecap="butt"/>
<line x1="180.95" y1="1009.3" x2="190.55" y2="999.7" stroke="#222" stroke-width="1" stroke-linecap="butt"/>
<line x1="248.25" y1="993.5" x2="248.25" y2="1015.5" stroke="#333" stroke-width="0.8" stroke-linecap="butt"/>
<line x1="243.45" y1="1009.3" x2="253.05" y2="999.7" stroke="#222" stroke-width="1" stroke-linecap="butt"/>
<line x1="313" y1="993.5" x2="313" y2="1015.5" stroke="#333" stroke-width="0.8" stroke-linecap="butt"/>
<line x1="308.2" y1="1009.3" x2="317.8" y2="999.7" stroke="#222" stroke-width="1" stroke-linecap="butt"/>
<line x1="417.5" y1="993.5" x2="417.5" y2="1015.5" stroke="#333" stroke-width="0.8" stroke-linecap="butt"/>
<line x1="412.7" y1="1009.3" x2="422.3" y2="999.7" stroke="#222" stroke-width="1" stroke-linecap="butt"/>
<line x1="450" y1="993.5" x2="450" y2="1015.5" stroke="#333" stroke-width="0.8" stroke-linecap="butt"/>
<line x1="445.2" y1="1009.3" x2="454.8" y2="999.7" stroke="#222" stroke-width="1" stroke-linecap="butt"/>
<line x1="484.5" y1="993.5" x2="484.5" y2="1015.5" stroke="#333" stroke-width="0.8" stroke-linecap="butt"/>
<line x1="479.7" y1="1009.3" x2="489.3" y2="999.7" stroke="#222" stroke-width="1" stroke-linecap="butt"/>
<line x1="542.6" y1="993.5" x2="542.6" y2="1015.5" stroke="#333" stroke-width="0.8" stroke-linecap="butt"/>
<line x1="537.8" y1="1009.3" x2="547.4" y2="999.7" stroke="#222" stroke-width="1" stroke-linecap="butt"/>
<line x1="611.5" y1="993.5" x2="611.5" y2="1015.5" stroke="#333" stroke-width="0.8" stroke-linecap="butt"/>
<line x1="606.7" y1="1009.3" x2="616.3" y2="999.7" stroke="#222" stroke-width="1" stroke-linecap="butt"/>
<line x1="675.8" y1="993.5" x2="675.8" y2="1015.5" stroke="#333" stroke-width="0.8" stroke-linecap="butt"/>
<line x1="671" y1="1009.3" x2="680.6" y2="999.7" stroke="#222" stroke-width="1" stroke-linecap="butt"/>
<line x1="770.4" y1="993.5" x2="770.4" y2="1015.5" stroke="#333" stroke-width="0.8" stroke-linecap="butt"/>
<line x1="765.6" y1="1009.3" x2="775.2" y2="999.7" stroke="#222" stroke-width="1" stroke-linecap="butt"/>
<line x1="851.1" y1="993.5" x2="851.1" y2="1015.5" stroke="#333" stroke-width="0.8" stroke-linecap="butt"/>
<line x1="846.3" y1="1009.3" x2="855.9" y2="999.7" stroke="#222" stroke-width="1" stroke-linecap="butt"/>
<line x1="918.75" y1="993.5" x2="918.75" y2="1015.5" stroke="#333" stroke-width="0.8" stroke-linecap="butt"/>
<line x1="913.95" y1="1009.3" x2="923.55" y2="999.7" stroke="#222" stroke-width="1" stroke-linecap="butt"/>
<text style="white-space:pre" transform="translate(217,995.8) scale(0.74,1)" x="0" y="3.74" font-family="Liberation Sans" font-size="10.4" text-anchor="middle" font-weight="normal" fill="#1a1a1a" stroke="#1a1a1a" stroke-width="0.3">1160</text>
<text style="white-space:pre" transform="translate(280.5,995.8) scale(0.74,1)" x="0" y="3.74" font-family="Liberation Sans" font-size="10.4" text-anchor="middle" font-weight="normal" fill="#1a1a1a" stroke="#1a1a1a" stroke-width="0.3">1200</text>
<text style="white-space:pre" transform="translate(365,995.8) scale(0.74,1)" x="0" y="3.74" font-family="Liberation Sans" font-size="10.4" text-anchor="middle" font-weight="normal" fill="#1a1a1a" stroke="#1a1a1a" stroke-width="0.3">1950</text>
<text style="white-space:pre" transform="translate(434,995.8) scale(0.74,1)" x="0" y="3.74" font-family="Liberation Sans" font-size="10.4" text-anchor="middle" font-weight="normal" fill="#1a1a1a" stroke="#1a1a1a" stroke-width="0.3">600</text>
<text style="white-space:pre" transform="translate(467.5,995.8) scale(0.74,1)" x="0" y="3.74" font-family="Liberation Sans" font-size="10.4" text-anchor="middle" font-weight="normal" fill="#1a1a1a" stroke="#1a1a1a" stroke-width="0.3">645</text>
<text style="white-space:pre" transform="translate(513.5,995.8) scale(0.74,1)" x="0" y="3.74" font-family="Liberation Sans" font-size="10.4" text-anchor="middle" font-weight="normal" fill="#1a1a1a" stroke="#1a1a1a" stroke-width="0.3">1100</text>
<text style="white-space:pre" transform="translate(577,995.8) scale(0.74,1)" x="0" y="3.74" font-family="Liberation Sans" font-size="10.4" text-anchor="middle" font-weight="normal" fill="#1a1a1a" stroke="#1a1a1a" stroke-width="0.3">1285</text>
<text style="white-space:pre" transform="translate(644.3,995.8) scale(0.74,1)" x="0" y="3.74" font-family="Liberation Sans" font-size="10.4" text-anchor="middle" font-weight="normal" fill="#1a1a1a" stroke="#1a1a1a" stroke-width="0.3">1200</text>
<text style="white-space:pre" transform="translate(723.2,995.8) scale(0.74,1)" x="0" y="3.74" font-family="Liberation Sans" font-size="10.4" text-anchor="middle" font-weight="normal" fill="#1a1a1a" stroke="#1a1a1a" stroke-width="0.3">1750</text>
<text style="white-space:pre" transform="translate(810.9,995.8) scale(0.74,1)" x="0" y="3.74" font-family="Liberation Sans" font-size="10.4" text-anchor="middle" font-weight="normal" fill="#1a1a1a" stroke="#1a1a1a" stroke-width="0.3">1500</text>
<text style="white-space:pre" transform="translate(885.2,995.8) scale(0.74,1)" x="0" y="3.74" font-family="Liberation Sans" font-size="10.4" text-anchor="middle" font-weight="normal" fill="#1a1a1a" stroke="#1a1a1a" stroke-width="0.3">1260</text>
<text style="white-space:pre" transform="translate(280.5,1013.3) scale(0.74,1)" x="0" y="3.74" font-family="Liberation Sans" font-size="10.4" text-anchor="middle" font-weight="normal" fill="#1a1a1a" stroke="#1a1a1a" stroke-width="0.3">1300(900)</text>
<text style="white-space:pre" transform="translate(433.75,1013.3) scale(0.74,1)" x="0" y="3.74" font-family="Liberation Sans" font-size="10.4" text-anchor="middle" font-weight="normal" fill="#1a1a1a" stroke="#1a1a1a" stroke-width="0.3">600(1600)</text>
<text style="white-space:pre" transform="translate(513.5,1013.3) scale(0.74,1)" x="0" y="3.74" font-family="Liberation Sans" font-size="10.4" text-anchor="middle" font-weight="normal" fill="#1a1a1a" stroke="#1a1a1a" stroke-width="0.3">2200</text>
<text style="white-space:pre" transform="translate(644.3,1013.3) scale(0.74,1)" x="0" y="3.74" font-family="Liberation Sans" font-size="10.4" text-anchor="middle" font-weight="normal" fill="#1a1a1a" stroke="#1a1a1a" stroke-width="0.3">600(1600)</text>
<text style="white-space:pre" transform="translate(810.9,1013.3) scale(0.74,1)" x="0" y="3.74" font-family="Liberation Sans" font-size="10.4" text-anchor="middle" font-weight="normal" fill="#1a1a1a" stroke="#1a1a1a" stroke-width="0.3">1300(900)</text>
<line x1="180.75" y1="1029.5" x2="923.75" y2="1029.5" stroke="#333" stroke-width="0.8" stroke-linecap="butt"/>
<line x1="185.75" y1="1019.5" x2="185.75" y2="1039.5" stroke="#333" stroke-width="0.8" stroke-linecap="butt"/>
<line x1="180.95" y1="1034.3" x2="190.55" y2="1024.7" stroke="#222" stroke-width="1" stroke-linecap="butt"/>
<line x1="206.5" y1="1019.5" x2="206.5" y2="1039.5" stroke="#333" stroke-width="0.8" stroke-linecap="butt"/>
<line x1="201.7" y1="1034.3" x2="211.3" y2="1024.7" stroke="#222" stroke-width="1" stroke-linecap="butt"/>
<line x1="383.75" y1="1019.5" x2="383.75" y2="1039.5" stroke="#333" stroke-width="0.8" stroke-linecap="butt"/>
<line x1="378.95" y1="1034.3" x2="388.55" y2="1024.7" stroke="#222" stroke-width="1" stroke-linecap="butt"/>
<line x1="390.5" y1="1019.5" x2="390.5" y2="1039.5" stroke="#333" stroke-width="0.8" stroke-linecap="butt"/>
<line x1="385.7" y1="1034.3" x2="395.3" y2="1024.7" stroke="#222" stroke-width="1" stroke-linecap="butt"/>
<line x1="471.25" y1="1019.5" x2="471.25" y2="1039.5" stroke="#333" stroke-width="0.8" stroke-linecap="butt"/>
<line x1="466.45" y1="1034.3" x2="476.05" y2="1024.7" stroke="#222" stroke-width="1" stroke-linecap="butt"/>
<line x1="477.5" y1="1019.5" x2="477.5" y2="1039.5" stroke="#333" stroke-width="0.8" stroke-linecap="butt"/>
<line x1="472.7" y1="1034.3" x2="482.3" y2="1024.7" stroke="#222" stroke-width="1" stroke-linecap="butt"/>
<line x1="572.5" y1="1019.5" x2="572.5" y2="1039.5" stroke="#333" stroke-width="0.8" stroke-linecap="butt"/>
<line x1="567.7" y1="1034.3" x2="577.3" y2="1024.7" stroke="#222" stroke-width="1" stroke-linecap="butt"/>
<line x1="579" y1="1019.5" x2="579" y2="1039.5" stroke="#333" stroke-width="0.8" stroke-linecap="butt"/>
<line x1="574.2" y1="1034.3" x2="583.8" y2="1024.7" stroke="#222" stroke-width="1" stroke-linecap="butt"/>
<line x1="702.5" y1="1019.5" x2="702.5" y2="1039.5" stroke="#333" stroke-width="0.8" stroke-linecap="butt"/>
<line x1="697.7" y1="1034.3" x2="707.3" y2="1024.7" stroke="#222" stroke-width="1" stroke-linecap="butt"/>
<line x1="709.6" y1="1019.5" x2="709.6" y2="1039.5" stroke="#333" stroke-width="0.8" stroke-linecap="butt"/>
<line x1="704.8" y1="1034.3" x2="714.4" y2="1024.7" stroke="#222" stroke-width="1" stroke-linecap="butt"/>
<line x1="898" y1="1019.5" x2="898" y2="1039.5" stroke="#333" stroke-width="0.8" stroke-linecap="butt"/>
<line x1="893.2" y1="1034.3" x2="902.8" y2="1024.7" stroke="#222" stroke-width="1" stroke-linecap="butt"/>
<line x1="918.75" y1="1019.5" x2="918.75" y2="1039.5" stroke="#333" stroke-width="0.8" stroke-linecap="butt"/>
<line x1="913.95" y1="1034.3" x2="923.55" y2="1024.7" stroke="#222" stroke-width="1" stroke-linecap="butt"/>
<text style="white-space:pre" transform="translate(196,1020.7) scale(0.74,1)" x="0" y="3.74" font-family="Liberation Sans" font-size="10.4" text-anchor="middle" font-weight="normal" fill="#1a1a1a" stroke="#1a1a1a" stroke-width="0.3">385</text>
<text style="white-space:pre" transform="translate(295,1020.7) scale(0.74,1)" x="0" y="3.74" font-family="Liberation Sans" font-size="10.4" text-anchor="middle" font-weight="normal" fill="#1a1a1a" stroke="#1a1a1a" stroke-width="0.3">3300</text>
<text style="white-space:pre" transform="translate(387,1020.7) scale(0.74,1)" x="0" y="3.74" font-family="Liberation Sans" font-size="10.4" text-anchor="middle" font-weight="normal" fill="#1a1a1a" stroke="#1a1a1a" stroke-width="0.3">125</text>
<text style="white-space:pre" transform="translate(431.25,1020.7) scale(0.74,1)" x="0" y="3.74" font-family="Liberation Sans" font-size="10.4" text-anchor="middle" font-weight="normal" fill="#1a1a1a" stroke="#1a1a1a" stroke-width="0.3">1500</text>
<text style="white-space:pre" transform="translate(474,1020.7) scale(0.74,1)" x="0" y="3.74" font-family="Liberation Sans" font-size="10.4" text-anchor="middle" font-weight="normal" fill="#1a1a1a" stroke="#1a1a1a" stroke-width="0.3">125</text>
<text style="white-space:pre" transform="translate(525,1020.7) scale(0.74,1)" x="0" y="3.74" font-family="Liberation Sans" font-size="10.4" text-anchor="middle" font-weight="normal" fill="#1a1a1a" stroke="#1a1a1a" stroke-width="0.3">1750</text>
<text style="white-space:pre" transform="translate(576,1020.7) scale(0.74,1)" x="0" y="3.74" font-family="Liberation Sans" font-size="10.4" text-anchor="middle" font-weight="normal" fill="#1a1a1a" stroke="#1a1a1a" stroke-width="0.3">125</text>
<text style="white-space:pre" transform="translate(641,1020.7) scale(0.74,1)" x="0" y="3.74" font-family="Liberation Sans" font-size="10.4" text-anchor="middle" font-weight="normal" fill="#1a1a1a" stroke="#1a1a1a" stroke-width="0.3">2300</text>
<text style="white-space:pre" transform="translate(706.3,1020.7) scale(0.74,1)" x="0" y="3.74" font-family="Liberation Sans" font-size="10.4" text-anchor="middle" font-weight="normal" fill="#1a1a1a" stroke="#1a1a1a" stroke-width="0.3">125</text>
<text style="white-space:pre" transform="translate(804,1020.7) scale(0.74,1)" x="0" y="3.74" font-family="Liberation Sans" font-size="10.4" text-anchor="middle" font-weight="normal" fill="#1a1a1a" stroke="#1a1a1a" stroke-width="0.3">3500</text>
<text style="white-space:pre" transform="translate(908.3,1020.7) scale(0.74,1)" x="0" y="3.74" font-family="Liberation Sans" font-size="10.4" text-anchor="middle" font-weight="normal" fill="#1a1a1a" stroke="#1a1a1a" stroke-width="0.3">385</text>
<line x1="180.75" y1="1046.5" x2="923.75" y2="1046.5" stroke="#333" stroke-width="0.8" stroke-linecap="butt"/>
<line x1="185.75" y1="992.5" x2="185.75" y2="1057.5" stroke="#333" stroke-width="0.8" stroke-linecap="butt"/>
<line x1="180.95" y1="1051.3" x2="190.55" y2="1041.7" stroke="#222" stroke-width="1" stroke-linecap="butt"/>
<line x1="918.75" y1="992.5" x2="918.75" y2="1057.5" stroke="#333" stroke-width="0.8" stroke-linecap="butt"/>
<line x1="913.95" y1="1051.3" x2="923.55" y2="1041.7" stroke="#222" stroke-width="1" stroke-linecap="butt"/>
<text style="white-space:pre" transform="translate(552.5,1038.3) scale(0.74,1)" x="0" y="3.74" font-family="Liberation Sans" font-size="10.4" text-anchor="middle" font-weight="normal" fill="#1a1a1a" stroke="#1a1a1a" stroke-width="0.3">13620</text>
<line x1="100.4" y1="517.2" x2="100.4" y2="964.4" stroke="#333" stroke-width="0.8" stroke-linecap="butt"/>
<line x1="90.4" y1="522.2" x2="160.4" y2="522.2" stroke="#333" stroke-width="0.8" stroke-linecap="butt"/>
<line x1="95.6" y1="517.4" x2="105.2" y2="527" stroke="#222" stroke-width="1" stroke-linecap="butt"/>
<line x1="90.4" y1="959.4" x2="160.4" y2="959.4" stroke="#333" stroke-width="0.8" stroke-linecap="butt"/>
<line x1="95.6" y1="954.6" x2="105.2" y2="964.2" stroke="#222" stroke-width="1" stroke-linecap="butt"/>
<text style="white-space:pre" transform="translate(94.8,741.7) rotate(-90) scale(0.74,1)" x="0" y="3.74" font-family="Liberation Sans" font-size="10.4" text-anchor="middle" font-weight="normal" fill="#1a1a1a" stroke="#1a1a1a" stroke-width="0.3">8120</text>
<line x1="127.5" y1="517.2" x2="127.5" y2="964.4" stroke="#333" stroke-width="0.8" stroke-linecap="butt"/>
<line x1="118.5" y1="522.2" x2="136.5" y2="522.2" stroke="#333" stroke-width="0.8" stroke-linecap="butt"/>
<line x1="122.7" y1="517.4" x2="132.3" y2="527" stroke="#222" stroke-width="1" stroke-linecap="butt"/>
<line x1="118.5" y1="542.6" x2="136.5" y2="542.6" stroke="#333" stroke-width="0.8" stroke-linecap="butt"/>
<line x1="122.7" y1="537.8" x2="132.3" y2="547.4" stroke="#222" stroke-width="1" stroke-linecap="butt"/>
<line x1="118.5" y1="938.4" x2="136.5" y2="938.4" stroke="#333" stroke-width="0.8" stroke-linecap="butt"/>
<line x1="122.7" y1="933.6" x2="132.3" y2="943.2" stroke="#222" stroke-width="1" stroke-linecap="butt"/>
<line x1="118.5" y1="959.4" x2="136.5" y2="959.4" stroke="#333" stroke-width="0.8" stroke-linecap="butt"/>
<line x1="122.7" y1="954.6" x2="132.3" y2="964.2" stroke="#222" stroke-width="1" stroke-linecap="butt"/>
<text style="white-space:pre" transform="translate(120.3,532.5) rotate(-90) scale(0.74,1)" x="0" y="3.74" font-family="Liberation Sans" font-size="10.4" text-anchor="middle" font-weight="normal" fill="#1a1a1a" stroke="#1a1a1a" stroke-width="0.3">385</text>
<text style="white-space:pre" transform="translate(120.3,741) rotate(-90) scale(0.74,1)" x="0" y="3.74" font-family="Liberation Sans" font-size="10.4" text-anchor="middle" font-weight="normal" fill="#1a1a1a" stroke="#1a1a1a" stroke-width="0.3">7350</text>
<text style="white-space:pre" transform="translate(120.3,948.7) rotate(-90) scale(0.74,1)" x="0" y="3.74" font-family="Liberation Sans" font-size="10.4" text-anchor="middle" font-weight="normal" fill="#1a1a1a" stroke="#1a1a1a" stroke-width="0.3">385</text>
<line x1="148" y1="517.2" x2="148" y2="964.4" stroke="#333" stroke-width="0.8" stroke-linecap="butt"/>
<line x1="138" y1="522.2" x2="158" y2="522.2" stroke="#333" stroke-width="0.8" stroke-linecap="butt"/>
<line x1="143.2" y1="517.4" x2="152.8" y2="527" stroke="#222" stroke-width="1" stroke-linecap="butt"/>
<line x1="138" y1="700" x2="158" y2="700" stroke="#333" stroke-width="0.8" stroke-linecap="butt"/>
<line x1="143.2" y1="695.2" x2="152.8" y2="704.8" stroke="#222" stroke-width="1" stroke-linecap="butt"/>
<line x1="138" y1="781.3" x2="158" y2="781.3" stroke="#333" stroke-width="0.8" stroke-linecap="butt"/>
<line x1="143.2" y1="776.5" x2="152.8" y2="786.1" stroke="#222" stroke-width="1" stroke-linecap="butt"/>
<line x1="138" y1="959.4" x2="158" y2="959.4" stroke="#333" stroke-width="0.8" stroke-linecap="butt"/>
<line x1="143.2" y1="954.6" x2="152.8" y2="964.2" stroke="#222" stroke-width="1" stroke-linecap="butt"/>
<text style="white-space:pre" transform="translate(140.6,611) rotate(-90) scale(0.74,1)" x="0" y="3.74" font-family="Liberation Sans" font-size="10.4" text-anchor="middle" font-weight="normal" fill="#1a1a1a" stroke="#1a1a1a" stroke-width="0.3">3310</text>
<text style="white-space:pre" transform="translate(140.6,740.6) rotate(-90) scale(0.74,1)" x="0" y="3.74" font-family="Liberation Sans" font-size="10.4" text-anchor="middle" font-weight="normal" fill="#1a1a1a" stroke="#1a1a1a" stroke-width="0.3">1500</text>
<text style="white-space:pre" transform="translate(140.6,866.8) rotate(-90) scale(0.74,1)" x="0" y="3.74" font-family="Liberation Sans" font-size="10.4" text-anchor="middle" font-weight="normal" fill="#1a1a1a" stroke="#1a1a1a" stroke-width="0.3">3310</text>
<text style="white-space:pre" transform="translate(158.5,740.6) rotate(-90) scale(0.74,1)" x="0" y="3.74" font-family="Liberation Sans" font-size="10.4" text-anchor="middle" font-weight="normal" fill="#1a1a1a" stroke="#1a1a1a" stroke-width="0.3">1300(900)</text>
<line x1="969.6" y1="517.3" x2="969.6" y2="964.4" stroke="#333" stroke-width="0.8" stroke-linecap="butt"/>
<line x1="960.6" y1="522.3" x2="978.6" y2="522.3" stroke="#333" stroke-width="0.8" stroke-linecap="butt"/>
<line x1="964.8" y1="517.5" x2="974.4" y2="527.1" stroke="#222" stroke-width="1" stroke-linecap="butt"/>
<line x1="960.6" y1="542.6" x2="978.6" y2="542.6" stroke="#333" stroke-width="0.8" stroke-linecap="butt"/>
<line x1="964.8" y1="537.8" x2="974.4" y2="547.4" stroke="#222" stroke-width="1" stroke-linecap="butt"/>
<line x1="960.6" y1="756.2" x2="978.6" y2="756.2" stroke="#333" stroke-width="0.8" stroke-linecap="butt"/>
<line x1="964.8" y1="751.4" x2="974.4" y2="761" stroke="#222" stroke-width="1" stroke-linecap="butt"/>
<line x1="960.6" y1="763" x2="978.6" y2="763" stroke="#333" stroke-width="0.8" stroke-linecap="butt"/>
<line x1="964.8" y1="758.2" x2="974.4" y2="767.8" stroke="#222" stroke-width="1" stroke-linecap="butt"/>
<line x1="960.6" y1="938.4" x2="978.6" y2="938.4" stroke="#333" stroke-width="0.8" stroke-linecap="butt"/>
<line x1="964.8" y1="933.6" x2="974.4" y2="943.2" stroke="#222" stroke-width="1" stroke-linecap="butt"/>
<line x1="960.6" y1="959.4" x2="978.6" y2="959.4" stroke="#333" stroke-width="0.8" stroke-linecap="butt"/>
<line x1="964.8" y1="954.6" x2="974.4" y2="964.2" stroke="#222" stroke-width="1" stroke-linecap="butt"/>
<text style="white-space:pre" transform="translate(961.1,532.5) rotate(-90) scale(0.74,1)" x="0" y="3.74" font-family="Liberation Sans" font-size="10.4" text-anchor="middle" font-weight="normal" fill="#1a1a1a" stroke="#1a1a1a" stroke-width="0.3">385</text>
<text style="white-space:pre" transform="translate(961.1,648.4) rotate(-90) scale(0.74,1)" x="0" y="3.74" font-family="Liberation Sans" font-size="10.4" text-anchor="middle" font-weight="normal" fill="#1a1a1a" stroke="#1a1a1a" stroke-width="0.3">3960</text>
<text style="white-space:pre" transform="translate(961.1,759.6) rotate(-90) scale(0.74,1)" x="0" y="3.74" font-family="Liberation Sans" font-size="10.4" text-anchor="middle" font-weight="normal" fill="#1a1a1a" stroke="#1a1a1a" stroke-width="0.3">125</text>
<text style="white-space:pre" transform="translate(961.1,849.9) rotate(-90) scale(0.74,1)" x="0" y="3.74" font-family="Liberation Sans" font-size="10.4" text-anchor="middle" font-weight="normal" fill="#1a1a1a" stroke="#1a1a1a" stroke-width="0.3">3260</text>
<text style="white-space:pre" transform="translate(961.1,948.7) rotate(-90) scale(0.74,1)" x="0" y="3.74" font-family="Liberation Sans" font-size="10.4" text-anchor="middle" font-weight="normal" fill="#1a1a1a" stroke="#1a1a1a" stroke-width="0.3">385</text>
<line x1="988.2" y1="517.3" x2="988.2" y2="964.4" stroke="#333" stroke-width="0.8" stroke-linecap="butt"/>
<line x1="958.2" y1="522.3" x2="998.2" y2="522.3" stroke="#333" stroke-width="0.8" stroke-linecap="butt"/>
<line x1="983.4" y1="517.5" x2="993" y2="527.1" stroke="#222" stroke-width="1" stroke-linecap="butt"/>
<line x1="958.2" y1="959.4" x2="998.2" y2="959.4" stroke="#333" stroke-width="0.8" stroke-linecap="butt"/>
<line x1="983.4" y1="954.6" x2="993" y2="964.2" stroke="#222" stroke-width="1" stroke-linecap="butt"/>
<text style="white-space:pre" transform="translate(980.6,740) rotate(-90) scale(0.74,1)" x="0" y="3.74" font-family="Liberation Sans" font-size="10.4" text-anchor="middle" font-weight="normal" fill="#1a1a1a" stroke="#1a1a1a" stroke-width="0.3">8120</text>
<line x1="202" y1="645.3" x2="903" y2="645.3" stroke="#444" stroke-width="0.7" stroke-linecap="butt"/>
<line x1="202.6" y1="649.5" x2="211" y2="641.1" stroke="#222" stroke-width="0.9" stroke-linecap="butt"/>
<line x1="468.2" y1="649.5" x2="476.6" y2="641.1" stroke="#222" stroke-width="0.9" stroke-linecap="butt"/>
<line x1="475.8" y1="649.5" x2="484.2" y2="641.1" stroke="#222" stroke-width="0.9" stroke-linecap="butt"/>
<line x1="612.8" y1="649.5" x2="621.2" y2="641.1" stroke="#222" stroke-width="0.9" stroke-linecap="butt"/>
<line x1="699.2" y1="649.5" x2="707.6" y2="641.1" stroke="#222" stroke-width="0.9" stroke-linecap="butt"/>
<line x1="705.4" y1="649.5" x2="713.8" y2="641.1" stroke="#222" stroke-width="0.9" stroke-linecap="butt"/>
<line x1="733.8" y1="649.5" x2="742.2" y2="641.1" stroke="#222" stroke-width="0.9" stroke-linecap="butt"/>
<line x1="766.2" y1="649.5" x2="774.6" y2="641.1" stroke="#222" stroke-width="0.9" stroke-linecap="butt"/>
<line x1="893.8" y1="649.5" x2="902.2" y2="641.1" stroke="#222" stroke-width="0.9" stroke-linecap="butt"/>
<line x1="617" y1="636" x2="617" y2="655" stroke="#444" stroke-width="0.7" stroke-linecap="butt"/>
<line x1="738" y1="636" x2="738" y2="655" stroke="#444" stroke-width="0.7" stroke-linecap="butt"/>
<line x1="770.4" y1="636" x2="770.4" y2="655" stroke="#444" stroke-width="0.7" stroke-linecap="butt"/>
<text style="white-space:pre" transform="translate(292,637.2) scale(0.74,1)" x="0" y="3.74" font-family="Liberation Sans" font-size="10.4" text-anchor="middle" font-weight="normal" fill="#1a1a1a" stroke="#1a1a1a" stroke-width="0.3">4950</text>
<text style="white-space:pre" transform="translate(548,637.2) scale(0.74,1)" x="0" y="3.74" font-family="Liberation Sans" font-size="10.4" text-anchor="middle" font-weight="normal" fill="#1a1a1a" stroke="#1a1a1a" stroke-width="0.3">2550</text>
<text style="white-space:pre" transform="translate(660,637.2) scale(0.74,1)" x="0" y="3.74" font-family="Liberation Sans" font-size="10.4" text-anchor="middle" font-weight="normal" fill="#1a1a1a" stroke="#1a1a1a" stroke-width="0.3">1600</text>
<text style="white-space:pre" transform="translate(724,637.2) scale(0.74,1)" x="0" y="3.74" font-family="Liberation Sans" font-size="10.4" text-anchor="middle" font-weight="normal" fill="#1a1a1a" stroke="#1a1a1a" stroke-width="0.3">645</text>
<text style="white-space:pre" transform="translate(754,637.2) scale(0.74,1)" x="0" y="3.74" font-family="Liberation Sans" font-size="10.4" text-anchor="middle" font-weight="normal" fill="#1a1a1a" stroke="#1a1a1a" stroke-width="0.3">605</text>
<text style="white-space:pre" transform="translate(834.4,637.2) scale(0.74,1)" x="0" y="3.74" font-family="Liberation Sans" font-size="10.4" text-anchor="middle" font-weight="normal" fill="#1a1a1a" stroke="#1a1a1a" stroke-width="0.3">2375</text>
<text style="white-space:pre" transform="translate(466,650) scale(0.74,1)" x="0" y="3.1" font-family="Liberation Sans" font-size="8.6" text-anchor="middle" font-weight="normal" fill="#1a1a1a" stroke="#1a1a1a" stroke-width="0.3">240</text>
<line x1="460.5" y1="652.7" x2="460.5" y2="666.8" stroke="#333" stroke-width="0.8" stroke-linecap="butt"/>
<line x1="454.3" y1="658.6" x2="479" y2="658.6" stroke="#555" stroke-width="0.7" stroke-linecap="butt"/>
<line x1="456.3" y1="662.8" x2="464.7" y2="654.4" stroke="#222" stroke-width="0.9" stroke-linecap="butt"/>
<line x1="468.8" y1="662.8" x2="477.2" y2="654.4" stroke="#222" stroke-width="0.9" stroke-linecap="butt"/>
<line x1="202" y1="779.3" x2="775" y2="779.3" stroke="#444" stroke-width="0.7" stroke-linecap="butt"/>
<line x1="202.6" y1="783.5" x2="211" y2="775.1" stroke="#222" stroke-width="0.9" stroke-linecap="butt"/>
<line x1="380.3" y1="783.5" x2="388.7" y2="775.1" stroke="#222" stroke-width="0.9" stroke-linecap="butt"/>
<line x1="502.3" y1="783.5" x2="510.7" y2="775.1" stroke="#222" stroke-width="0.9" stroke-linecap="butt"/>
<line x1="568.8" y1="783.5" x2="577.2" y2="775.1" stroke="#222" stroke-width="0.9" stroke-linecap="butt"/>
<line x1="575.8" y1="783.5" x2="584.2" y2="775.1" stroke="#222" stroke-width="0.9" stroke-linecap="butt"/>
<line x1="609.9" y1="783.5" x2="618.3" y2="775.1" stroke="#222" stroke-width="0.9" stroke-linecap="butt"/>
<line x1="733.5" y1="783.5" x2="741.9" y2="775.1" stroke="#222" stroke-width="0.9" stroke-linecap="butt"/>
<line x1="759.5" y1="783.5" x2="767.9" y2="775.1" stroke="#222" stroke-width="0.9" stroke-linecap="butt"/>
<line x1="766.3" y1="783.5" x2="774.7" y2="775.1" stroke="#222" stroke-width="0.9" stroke-linecap="butt"/>
<line x1="384.5" y1="769" x2="384.5" y2="792" stroke="#444" stroke-width="0.7" stroke-linecap="butt"/>
<line x1="506.5" y1="769" x2="506.5" y2="790" stroke="#444" stroke-width="0.7" stroke-linecap="butt"/>
<line x1="614.1" y1="769" x2="614.1" y2="790" stroke="#444" stroke-width="0.7" stroke-linecap="butt"/>
<line x1="737.7" y1="769" x2="737.7" y2="790" stroke="#444" stroke-width="0.7" stroke-linecap="butt"/>
<text style="white-space:pre" transform="translate(295.6,771.3) scale(0.74,1)" x="0" y="3.74" font-family="Liberation Sans" font-size="10.4" text-anchor="middle" font-weight="normal" fill="#1a1a1a" stroke="#1a1a1a" stroke-width="0.3">3300</text>
<text style="white-space:pre" transform="translate(445.6,771.3) scale(0.74,1)" x="0" y="3.74" font-family="Liberation Sans" font-size="10.4" text-anchor="middle" font-weight="normal" fill="#1a1a1a" stroke="#1a1a1a" stroke-width="0.3">2270</text>
<text style="white-space:pre" transform="translate(539.4,771.3) scale(0.74,1)" x="0" y="3.74" font-family="Liberation Sans" font-size="10.4" text-anchor="middle" font-weight="normal" fill="#1a1a1a" stroke="#1a1a1a" stroke-width="0.3">1230</text>
<text style="white-space:pre" transform="translate(602.8,771.3) scale(0.74,1)" x="0" y="3.74" font-family="Liberation Sans" font-size="10.4" text-anchor="middle" font-weight="normal" fill="#1a1a1a" stroke="#1a1a1a" stroke-width="0.3">650</text>
<text style="white-space:pre" transform="translate(668.4,771.3) scale(0.74,1)" x="0" y="3.74" font-family="Liberation Sans" font-size="10.4" text-anchor="middle" font-weight="normal" fill="#1a1a1a" stroke="#1a1a1a" stroke-width="0.3">2295</text>
<text style="white-space:pre" transform="translate(750.7,771.3) scale(0.74,1)" x="0" y="3.74" font-family="Liberation Sans" font-size="10.4" text-anchor="middle" font-weight="normal" fill="#1a1a1a" stroke="#1a1a1a" stroke-width="0.3">480</text>
<text style="white-space:pre" transform="translate(767.8,771.3) scale(0.74,1)" x="0" y="3.74" font-family="Liberation Sans" font-size="10.4" text-anchor="middle" font-weight="normal" fill="#1a1a1a" stroke="#1a1a1a" stroke-width="0.3">125</text>
<line x1="343.75" y1="538" x2="343.75" y2="943" stroke="#444" stroke-width="0.7" stroke-linecap="butt"/>
<line x1="339.55" y1="538.8" x2="347.95" y2="547.2" stroke="#222" stroke-width="0.9" stroke-linecap="butt"/>
<line x1="339.55" y1="722.8" x2="347.95" y2="731.2" stroke="#222" stroke-width="0.9" stroke-linecap="butt"/>
<line x1="339.55" y1="787.7" x2="347.95" y2="796.1" stroke="#222" stroke-width="0.9" stroke-linecap="butt"/>
<line x1="339.55" y1="934.2" x2="347.95" y2="942.6" stroke="#222" stroke-width="0.9" stroke-linecap="butt"/>
<line x1="333" y1="727" x2="354" y2="727" stroke="#444" stroke-width="0.7" stroke-linecap="butt"/>
<text style="white-space:pre" transform="translate(335.5,623.8) rotate(-90) scale(0.74,1)" x="0" y="3.74" font-family="Liberation Sans" font-size="10.4" text-anchor="middle" font-weight="normal" fill="#1a1a1a" stroke="#1a1a1a" stroke-width="0.3">3425</text>
<text style="white-space:pre" transform="translate(335.5,759.5) rotate(-90) scale(0.74,1)" x="0" y="3.74" font-family="Liberation Sans" font-size="10.4" text-anchor="middle" font-weight="normal" fill="#1a1a1a" stroke="#1a1a1a" stroke-width="0.3">1200</text>
<text style="white-space:pre" transform="translate(335.5,865) rotate(-90) scale(0.74,1)" x="0" y="3.74" font-family="Liberation Sans" font-size="10.4" text-anchor="middle" font-weight="normal" fill="#1a1a1a" stroke="#1a1a1a" stroke-width="0.3">2725</text>
<line x1="438.75" y1="668" x2="438.75" y2="732" stroke="#444" stroke-width="0.7" stroke-linecap="butt"/>
<line x1="434.55" y1="668.3" x2="442.95" y2="676.7" stroke="#222" stroke-width="0.9" stroke-linecap="butt"/>
<line x1="434.55" y1="723.3" x2="442.95" y2="731.7" stroke="#222" stroke-width="0.9" stroke-linecap="butt"/>
<line x1="430" y1="672.5" x2="452" y2="672.5" stroke="#444" stroke-width="0.7" stroke-linecap="butt"/>
<line x1="430" y1="727.5" x2="450" y2="727.5" stroke="#444" stroke-width="0.7" stroke-linecap="butt"/>
<text style="white-space:pre" transform="translate(431.2,700) rotate(-90) scale(0.74,1)" x="0" y="3.74" font-family="Liberation Sans" font-size="10.4" text-anchor="middle" font-weight="normal" fill="#1a1a1a" stroke="#1a1a1a" stroke-width="0.3">1010</text>
<line x1="480.6" y1="722" x2="480.6" y2="800" stroke="#444" stroke-width="0.7" stroke-linecap="butt"/>
<line x1="476.4" y1="722.8" x2="484.8" y2="731.2" stroke="#222" stroke-width="0.9" stroke-linecap="butt"/>
<line x1="473.1" y1="734" x2="473.1" y2="751" stroke="#666" stroke-width="0.8" stroke-linecap="butt"/>
<line x1="468.9" y1="748.8" x2="477.3" y2="740.4" stroke="#222" stroke-width="0.9" stroke-linecap="butt"/>
<line x1="467" y1="744.6" x2="572.6" y2="744.6" stroke="#777" stroke-width="0.7" stroke-linecap="butt"/>
<text style="white-space:pre" transform="translate(472.4,759) rotate(-90) scale(0.74,1)" x="0" y="3.74" font-family="Liberation Sans" font-size="10.4" text-anchor="middle" font-weight="normal" fill="#1a1a1a" stroke="#1a1a1a" stroke-width="0.3">1200</text>
<line x1="679.3" y1="538" x2="679.3" y2="945" stroke="#444" stroke-width="0.7" stroke-linecap="butt"/>
<line x1="675.1" y1="538.8" x2="683.5" y2="547.2" stroke="#222" stroke-width="0.9" stroke-linecap="butt"/>
<line x1="675.1" y1="716.3" x2="683.5" y2="724.7" stroke="#222" stroke-width="0.9" stroke-linecap="butt"/>
<line x1="675.1" y1="722.8" x2="683.5" y2="731.2" stroke="#222" stroke-width="0.9" stroke-linecap="butt"/>
<line x1="675.1" y1="787.8" x2="683.5" y2="796.2" stroke="#222" stroke-width="0.9" stroke-linecap="butt"/>
<line x1="675.1" y1="794.8" x2="683.5" y2="803.2" stroke="#222" stroke-width="0.9" stroke-linecap="butt"/>
<line x1="675.1" y1="934.2" x2="683.5" y2="942.6" stroke="#222" stroke-width="0.9" stroke-linecap="butt"/>
<text style="white-space:pre" transform="translate(671,603) rotate(-90) scale(0.74,1)" x="0" y="3.74" font-family="Liberation Sans" font-size="10.4" text-anchor="middle" font-weight="normal" fill="#1a1a1a" stroke="#1a1a1a" stroke-width="0.3">3300</text>
<text style="white-space:pre" transform="translate(671,752) rotate(-90) scale(0.74,1)" x="0" y="3.74" font-family="Liberation Sans" font-size="10.4" text-anchor="middle" font-weight="normal" fill="#1a1a1a" stroke="#1a1a1a" stroke-width="0.3">1200</text>
<text style="white-space:pre" transform="translate(674.8,873) rotate(-90) scale(0.74,1)" x="0" y="3.74" font-family="Liberation Sans" font-size="10.4" text-anchor="middle" font-weight="normal" fill="#1a1a1a" stroke="#1a1a1a" stroke-width="0.3">2600</text>
<line x1="873" y1="538" x2="873" y2="943" stroke="#444" stroke-width="0.7" stroke-linecap="butt"/>
<line x1="868.8" y1="538.8" x2="877.2" y2="547.2" stroke="#222" stroke-width="0.9" stroke-linecap="butt"/>
<line x1="868.8" y1="716.2" x2="877.2" y2="724.6" stroke="#222" stroke-width="0.9" stroke-linecap="butt"/>
<line x1="868.8" y1="752" x2="877.2" y2="760.4" stroke="#222" stroke-width="0.9" stroke-linecap="butt"/>
<line x1="868.8" y1="758.8" x2="877.2" y2="767.2" stroke="#222" stroke-width="0.9" stroke-linecap="butt"/>
<line x1="868.8" y1="794.4" x2="877.2" y2="802.8" stroke="#222" stroke-width="0.9" stroke-linecap="butt"/>
<line x1="868.8" y1="934.2" x2="877.2" y2="942.6" stroke="#222" stroke-width="0.9" stroke-linecap="butt"/>
<line x1="861" y1="720.4" x2="889" y2="720.4" stroke="#444" stroke-width="0.7" stroke-linecap="butt"/>
<line x1="861" y1="798.6" x2="884" y2="798.6" stroke="#444" stroke-width="0.7" stroke-linecap="butt"/>
<text style="white-space:pre" transform="translate(865.2,631) rotate(-90) scale(0.74,1)" x="0" y="3.74" font-family="Liberation Sans" font-size="10.4" text-anchor="middle" font-weight="normal" fill="#1a1a1a" stroke="#1a1a1a" stroke-width="0.3">3300</text>
<text style="white-space:pre" transform="translate(865.2,737.5) rotate(-90) scale(0.74,1)" x="0" y="3.74" font-family="Liberation Sans" font-size="10.4" text-anchor="middle" font-weight="normal" fill="#1a1a1a" stroke="#1a1a1a" stroke-width="0.3">660</text>
<text style="white-space:pre" transform="translate(865.2,780.5) rotate(-90) scale(0.74,1)" x="0" y="3.74" font-family="Liberation Sans" font-size="10.4" text-anchor="middle" font-weight="normal" fill="#1a1a1a" stroke="#1a1a1a" stroke-width="0.3">660</text>
<text style="white-space:pre" transform="translate(865.2,868.6) rotate(-90) scale(0.74,1)" x="0" y="3.74" font-family="Liberation Sans" font-size="10.4" text-anchor="middle" font-weight="normal" fill="#1a1a1a" stroke="#1a1a1a" stroke-width="0.3">2600</text>
<line x1="475" y1="896.5" x2="903" y2="896.5" stroke="#444" stroke-width="0.7" stroke-linecap="butt"/>
<line x1="475.55" y1="900.7" x2="483.95" y2="892.3" stroke="#222" stroke-width="0.9" stroke-linecap="butt"/>
<line x1="568.5" y1="900.7" x2="576.9" y2="892.3" stroke="#222" stroke-width="0.9" stroke-linecap="butt"/>
<line x1="575.7" y1="900.7" x2="584.1" y2="892.3" stroke="#222" stroke-width="0.9" stroke-linecap="butt"/>
<line x1="699" y1="900.7" x2="707.4" y2="892.3" stroke="#222" stroke-width="0.9" stroke-linecap="butt"/>
<line x1="705.3" y1="900.7" x2="713.7" y2="892.3" stroke="#222" stroke-width="0.9" stroke-linecap="butt"/>
<line x1="733.6" y1="900.7" x2="742" y2="892.3" stroke="#222" stroke-width="0.9" stroke-linecap="butt"/>
<line x1="893.8" y1="900.7" x2="902.2" y2="892.3" stroke="#222" stroke-width="0.9" stroke-linecap="butt"/>
<line x1="737.8" y1="886" x2="737.8" y2="907" stroke="#444" stroke-width="0.7" stroke-linecap="butt"/>
<text style="white-space:pre" transform="translate(525.9,888.2) scale(0.74,1)" x="0" y="3.74" font-family="Liberation Sans" font-size="10.4" text-anchor="middle" font-weight="normal" fill="#1a1a1a" stroke="#1a1a1a" stroke-width="0.3">1750</text>
<text style="white-space:pre" transform="translate(641,888.2) scale(0.74,1)" x="0" y="3.74" font-family="Liberation Sans" font-size="10.4" text-anchor="middle" font-weight="normal" fill="#1a1a1a" stroke="#1a1a1a" stroke-width="0.3">2300</text>
<text style="white-space:pre" transform="translate(723.8,888.2) scale(0.74,1)" x="0" y="3.74" font-family="Liberation Sans" font-size="10.4" text-anchor="middle" font-weight="normal" fill="#1a1a1a" stroke="#1a1a1a" stroke-width="0.3">520</text>
<text style="white-space:pre" transform="translate(817.6,887.5) scale(0.74,1)" x="0" y="3.74" font-family="Liberation Sans" font-size="10.4" text-anchor="middle" font-weight="normal" fill="#1a1a1a" stroke="#1a1a1a" stroke-width="0.3">2980</text>
<line x1="548.1" y1="794" x2="548.1" y2="943" stroke="#444" stroke-width="0.7" stroke-linecap="butt"/>
<line x1="543.9" y1="794.8" x2="552.3" y2="803.2" stroke="#222" stroke-width="0.9" stroke-linecap="butt"/>
<line x1="543.9" y1="934.2" x2="552.3" y2="942.6" stroke="#222" stroke-width="0.9" stroke-linecap="butt"/>
<text style="white-space:pre" transform="translate(539.4,868.3) rotate(-90) scale(0.74,1)" x="0" y="3.74" font-family="Liberation Sans" font-size="10.4" text-anchor="middle" font-weight="normal" fill="#1a1a1a" stroke="#1a1a1a" stroke-width="0.3">2600</text>
<line x1="444.75" y1="794" x2="444.75" y2="940" stroke="#444" stroke-width="0.7" stroke-linecap="butt"/>
<line x1="440.55" y1="794.2" x2="448.95" y2="802.6" stroke="#222" stroke-width="0.9" stroke-linecap="butt"/>
<line x1="440.55" y1="848.4" x2="448.95" y2="856.8" stroke="#222" stroke-width="0.9" stroke-linecap="butt"/>
<line x1="440.55" y1="872.8" x2="448.95" y2="881.2" stroke="#222" stroke-width="0.9" stroke-linecap="butt"/>
<line x1="440.55" y1="880.8" x2="448.95" y2="889.2" stroke="#222" stroke-width="0.9" stroke-linecap="butt"/>
<line x1="440.55" y1="909.2" x2="448.95" y2="917.6" stroke="#222" stroke-width="0.9" stroke-linecap="butt"/>
<line x1="440.55" y1="934.2" x2="448.95" y2="942.6" stroke="#222" stroke-width="0.9" stroke-linecap="butt"/>
<text style="white-space:pre" transform="translate(436.7,820.5) rotate(-90) scale(0.74,1)" x="0" y="3.74" font-family="Liberation Sans" font-size="10.4" text-anchor="middle" font-weight="normal" fill="#1a1a1a" stroke="#1a1a1a" stroke-width="0.3">1005</text>
<text style="white-space:pre" transform="translate(436.7,863.5) rotate(-90) scale(0.74,1)" x="0" y="3.74" font-family="Liberation Sans" font-size="10.4" text-anchor="middle" font-weight="normal" fill="#1a1a1a" stroke="#1a1a1a" stroke-width="0.3">470</text>
<text style="white-space:pre" transform="translate(436.7,898.5) rotate(-90) scale(0.74,1)" x="0" y="3.74" font-family="Liberation Sans" font-size="10.4" text-anchor="middle" font-weight="normal" fill="#1a1a1a" stroke="#1a1a1a" stroke-width="0.3">530</text>
<text style="white-space:pre" transform="translate(436.7,925.5) rotate(-90) scale(0.74,1)" x="0" y="3.74" font-family="Liberation Sans" font-size="10.4" text-anchor="middle" font-weight="normal" fill="#1a1a1a" stroke="#1a1a1a" stroke-width="0.3">470</text>
<line x1="386.5" y1="817.6" x2="394.9" y2="809.2" stroke="#222" stroke-width="0.9" stroke-linecap="butt"/>
<line x1="467.4" y1="817.6" x2="475.8" y2="809.2" stroke="#222" stroke-width="0.9" stroke-linecap="butt"/>
<text style="white-space:pre" transform="translate(414.5,804.7) scale(0.74,1)" x="0" y="3.74" font-family="Liberation Sans" font-size="10.4" text-anchor="middle" font-weight="normal" fill="#1a1a1a" stroke="#1a1a1a" stroke-width="0.3">1500</text>
<line x1="434.4" y1="852.8" x2="485.3" y2="852.8" stroke="#444" stroke-width="0.7" stroke-linecap="butt"/>
<text style="white-space:pre" transform="translate(463,848) scale(0.74,1)" x="0" y="3.74" font-family="Liberation Sans" font-size="10.4" text-anchor="middle" font-weight="normal" fill="#1a1a1a" stroke="#1a1a1a" stroke-width="0.3">1970</text>
<text style="white-space:pre" transform="translate(463,858) scale(0.74,1)" x="0" y="3.74" font-family="Liberation Sans" font-size="10.4" text-anchor="middle" font-weight="normal" fill="#1a1a1a" stroke="#1a1a1a" stroke-width="0.3">700</text>
<line x1="434.4" y1="913.3" x2="485.3" y2="913.3" stroke="#444" stroke-width="0.7" stroke-linecap="butt"/>
<text style="white-space:pre" transform="translate(463,908.8) scale(0.74,1)" x="0" y="3.74" font-family="Liberation Sans" font-size="10.4" text-anchor="middle" font-weight="normal" fill="#1a1a1a" stroke="#1a1a1a" stroke-width="0.3">700</text>
<text style="white-space:pre" transform="translate(463,918.4) scale(0.74,1)" x="0" y="3.74" font-family="Liberation Sans" font-size="10.4" text-anchor="middle" font-weight="normal" fill="#1a1a1a" stroke="#1a1a1a" stroke-width="0.3">1970</text>
<line x1="614.9" y1="780" x2="614.9" y2="841" stroke="#444" stroke-width="0.7" stroke-linecap="butt"/>
<text style="white-space:pre" transform="translate(610,807.8) rotate(-90) scale(0.74,1)" x="0" y="3.74" font-family="Liberation Sans" font-size="10.4" text-anchor="middle" font-weight="normal" fill="#1a1a1a" stroke="#1a1a1a" stroke-width="0.3">700</text>
<text style="white-space:pre" transform="translate(619.6,807.8) rotate(-90) scale(0.74,1)" x="0" y="3.74" font-family="Liberation Sans" font-size="10.4" text-anchor="middle" font-weight="normal" fill="#1a1a1a" stroke="#1a1a1a" stroke-width="0.3">1970</text>
<line x1="572.7" y1="830.9" x2="619.6" y2="830.9" stroke="#444" stroke-width="0.7" stroke-linecap="butt"/>
<line x1="568.5" y1="835.1" x2="576.9" y2="826.7" stroke="#222" stroke-width="0.9" stroke-linecap="butt"/>
<line x1="610.7" y1="835.1" x2="619.1" y2="826.7" stroke="#222" stroke-width="0.9" stroke-linecap="butt"/>
<text style="white-space:pre" transform="translate(604.5,822.6) scale(0.74,1)" x="0" y="3.74" font-family="Liberation Sans" font-size="10.4" text-anchor="middle" font-weight="normal" fill="#1a1a1a" stroke="#1a1a1a" stroke-width="0.3">650</text>
<line x1="737.8" y1="780" x2="737.8" y2="841" stroke="#444" stroke-width="0.7" stroke-linecap="butt"/>
<text style="white-space:pre" transform="translate(734.2,807.8) rotate(-90) scale(0.74,1)" x="0" y="3.74" font-family="Liberation Sans" font-size="10.4" text-anchor="middle" font-weight="normal" fill="#1a1a1a" stroke="#1a1a1a" stroke-width="0.3">800</text>
<text style="white-space:pre" transform="translate(743,807.8) rotate(-90) scale(0.74,1)" x="0" y="3.74" font-family="Liberation Sans" font-size="10.4" text-anchor="middle" font-weight="normal" fill="#1a1a1a" stroke="#1a1a1a" stroke-width="0.3">1970</text>
<line x1="617" y1="677.6" x2="617" y2="733.6" stroke="#444" stroke-width="0.7" stroke-linecap="butt"/>
<text style="white-space:pre" transform="translate(612.4,708) rotate(-90) scale(0.74,1)" x="0" y="3.74" font-family="Liberation Sans" font-size="10.4" text-anchor="middle" font-weight="normal" fill="#1a1a1a" stroke="#1a1a1a" stroke-width="0.3">800</text>
<text style="white-space:pre" transform="translate(622,708) rotate(-90) scale(0.74,1)" x="0" y="3.74" font-family="Liberation Sans" font-size="10.4" text-anchor="middle" font-weight="normal" fill="#1a1a1a" stroke="#1a1a1a" stroke-width="0.3">1970</text>
<line x1="737.7" y1="678" x2="737.7" y2="733.4" stroke="#444" stroke-width="0.7" stroke-linecap="butt"/>
<text style="white-space:pre" transform="translate(733.6,708.3) rotate(-90) scale(0.74,1)" x="0" y="3.74" font-family="Liberation Sans" font-size="10.4" text-anchor="middle" font-weight="normal" fill="#1a1a1a" stroke="#1a1a1a" stroke-width="0.3">800</text>
<text style="white-space:pre" transform="translate(743.4,708.3) rotate(-90) scale(0.74,1)" x="0" y="3.74" font-family="Liberation Sans" font-size="10.4" text-anchor="middle" font-weight="normal" fill="#1a1a1a" stroke="#1a1a1a" stroke-width="0.3">1970</text>
<line x1="529" y1="763.7" x2="604.5" y2="763.7" stroke="#444" stroke-width="0.7" stroke-linecap="butt"/>
<text style="white-space:pre" transform="translate(564,759.6) scale(0.74,1)" x="0" y="3.74" font-family="Liberation Sans" font-size="10.4" text-anchor="middle" font-weight="normal" fill="#1a1a1a" stroke="#1a1a1a" stroke-width="0.3">800</text>
<text style="white-space:pre" transform="translate(564,769) scale(0.74,1)" x="0" y="3.74" font-family="Liberation Sans" font-size="10.4" text-anchor="middle" font-weight="normal" fill="#1a1a1a" stroke="#1a1a1a" stroke-width="0.3">1970</text>
<text style="white-space:pre" transform="translate(585.7,745.6) rotate(-90) scale(0.74,1)" x="0" y="3.74" font-family="Liberation Sans" font-size="10.4" text-anchor="middle" font-weight="normal" fill="#1a1a1a" stroke="#1a1a1a" stroke-width="0.3">680</text>
<text style="white-space:pre" transform="translate(585.7,778) rotate(-90) scale(0.74,1)" x="0" y="3.74" font-family="Liberation Sans" font-size="10.4" text-anchor="middle" font-weight="normal" fill="#1a1a1a" stroke="#1a1a1a" stroke-width="0.3">520</text>
<line x1="591" y1="740.3" x2="598.8" y2="740.3" stroke="#666" stroke-width="0.7" stroke-linecap="butt"/>
<text style="white-space:pre" transform="translate(523,736.3) scale(0.74,1)" x="0" y="3.74" font-family="Liberation Sans" font-size="10.4" text-anchor="middle" font-weight="normal" fill="#1a1a1a" stroke="#1a1a1a" stroke-width="0.3">1850</text>
<line x1="506" y1="780" x2="506" y2="837" stroke="#444" stroke-width="0.7" stroke-linecap="butt"/>
<text style="white-space:pre" transform="translate(502,807) rotate(-90) scale(0.74,1)" x="0" y="3.74" font-family="Liberation Sans" font-size="10.4" text-anchor="middle" font-weight="normal" fill="#1a1a1a" stroke="#1a1a1a" stroke-width="0.3">800</text>
<text style="white-space:pre" transform="translate(511.6,807) rotate(-90) scale(0.74,1)" x="0" y="3.74" font-family="Liberation Sans" font-size="10.4" text-anchor="middle" font-weight="normal" fill="#1a1a1a" stroke="#1a1a1a" stroke-width="0.3">1970</text>
<path d="M484.8 799 V840.5 H507" fill="none" stroke="#444" stroke-width="0.7"/>
<text style="white-space:pre" transform="translate(492.5,835) scale(0.74,1)" x="0" y="3.74" font-family="Liberation Sans" font-size="10.4" text-anchor="middle" font-weight="normal" fill="#1a1a1a" stroke="#1a1a1a" stroke-width="0.3">520</text>
<path d="M480 645.3 L487 661.6 H508" fill="none" stroke="#444" stroke-width="0.7"/>
<text style="white-space:pre" transform="translate(497.8,653) scale(0.74,1)" x="0" y="3.74" font-family="Liberation Sans" font-size="10.4" text-anchor="middle" font-weight="normal" fill="#1a1a1a" stroke="#1a1a1a" stroke-width="0.3">125</text>
<path d="M679.3 661.6 H700.8 L703.4 645.3" fill="none" stroke="#444" stroke-width="0.7"/>
<text style="white-space:pre" transform="translate(689.4,653) scale(0.74,1)" x="0" y="3.74" font-family="Liberation Sans" font-size="10.4" text-anchor="middle" font-weight="normal" fill="#1a1a1a" stroke="#1a1a1a" stroke-width="0.3">125</text>
<path d="M693.8 694 V715 L679.3 721" fill="none" stroke="#444" stroke-width="0.7"/>
<text style="white-space:pre" transform="translate(686,704.8) rotate(-90) scale(0.74,1)" x="0" y="3.74" font-family="Liberation Sans" font-size="10.4" text-anchor="middle" font-weight="normal" fill="#1a1a1a" stroke="#1a1a1a" stroke-width="0.3">125</text>
<path d="M889.6 789.5 V768.4 L873 763" fill="none" stroke="#444" stroke-width="0.7"/>
<text style="white-space:pre" transform="translate(881.5,778) rotate(-90) scale(0.74,1)" x="0" y="3.74" font-family="Liberation Sans" font-size="10.4" text-anchor="middle" font-weight="normal" fill="#1a1a1a" stroke="#1a1a1a" stroke-width="0.3">125</text>
<path d="M668.2 829.3 V808.6 L679.3 799" fill="none" stroke="#444" stroke-width="0.7"/>
<text style="white-space:pre" transform="translate(660.2,818.2) rotate(-90) scale(0.74,1)" x="0" y="3.74" font-family="Liberation Sans" font-size="10.4" text-anchor="middle" font-weight="normal" fill="#1a1a1a" stroke="#1a1a1a" stroke-width="0.3">125</text>
<path d="M579.9 896.5 L591 911.7 H612.5" fill="none" stroke="#444" stroke-width="0.7"/>
<text style="white-space:pre" transform="translate(602,903.8) scale(0.74,1)" x="0" y="3.74" font-family="Liberation Sans" font-size="10.4" text-anchor="middle" font-weight="normal" fill="#1a1a1a" stroke="#1a1a1a" stroke-width="0.3">125</text>
<path d="M709.5 896.5 L715 911.2 H736.6" fill="none" stroke="#444" stroke-width="0.7"/>
<text style="white-space:pre" transform="translate(726.2,903.3) scale(0.74,1)" x="0" y="3.74" font-family="Liberation Sans" font-size="10.4" text-anchor="middle" font-weight="normal" fill="#1a1a1a" stroke="#1a1a1a" stroke-width="0.3">125</text>
<path d="M563.5 792.3 L577.7 774.7" fill="none" stroke="#444" stroke-width="0.7"/>
<text style="white-space:pre" transform="translate(552.5,784.6) scale(0.74,1)" x="0" y="3.74" font-family="Liberation Sans" font-size="10.4" text-anchor="middle" font-weight="normal" fill="#1a1a1a" stroke="#1a1a1a" stroke-width="0.3">125</text>
<line x1="594.2" y1="728" x2="594.2" y2="791" stroke="#666" stroke-width="0.7" stroke-linecap="butt"/>
<line x1="590" y1="759.5" x2="598.4" y2="767.9" stroke="#222" stroke-width="0.9" stroke-linecap="butt"/>
<circle cx="155" cy="498" r="9.8" fill="#fff" stroke="#222" stroke-width="1"/>
<text style="white-space:pre" transform="translate(155,498) scale(0.74,1)" x="0" y="3.1" font-family="Liberation Sans" font-size="8.6" text-anchor="middle" font-weight="normal" fill="#1a1a1a" stroke="#1a1a1a" stroke-width="0.15">OCH</text>
<line x1="162" y1="505" x2="172.5" y2="514.5" stroke="#222" stroke-width="0.9" stroke-linecap="butt"/>
<path d="M172.5 514.5 L168.29 512.44 L170.04 510.52 Z" fill="#222" stroke="#222" stroke-width="0.4"/>
<circle cx="155" cy="979.5" r="9.8" fill="#fff" stroke="#222" stroke-width="1"/>
<text style="white-space:pre" transform="translate(155,979.5) scale(0.74,1)" x="0" y="3.1" font-family="Liberation Sans" font-size="8.6" text-anchor="middle" font-weight="normal" fill="#1a1a1a" stroke="#1a1a1a" stroke-width="0.15">OCH</text>
<line x1="162" y1="972.5" x2="172.5" y2="960" stroke="#222" stroke-width="0.9" stroke-linecap="butt"/>
<path d="M172.5 960 L170.6 964.28 L168.61 962.61 Z" fill="#222" stroke="#222" stroke-width="0.4"/>
<circle cx="948" cy="496.6" r="10.6" fill="#fff" stroke="#222" stroke-width="1"/>
<text style="white-space:pre" transform="translate(948,496.6) scale(0.74,1)" x="0" y="3.1" font-family="Liberation Sans" font-size="8.6" text-anchor="middle" font-weight="normal" fill="#1a1a1a" stroke="#1a1a1a" stroke-width="0.15">OCH</text>
<line x1="941" y1="506.2" x2="931.8" y2="516.1" stroke="#222" stroke-width="0.9" stroke-linecap="butt"/>
<path d="M931.8 516.1 L933.91 511.92 L935.82 513.69 Z" fill="#222" stroke="#222" stroke-width="0.4"/>
<circle cx="950" cy="990.4" r="10.6" fill="#fff" stroke="#222" stroke-width="1"/>
<text style="white-space:pre" transform="translate(950,990.4) scale(0.74,1)" x="0" y="3.1" font-family="Liberation Sans" font-size="8.6" text-anchor="middle" font-weight="normal" fill="#1a1a1a" stroke="#1a1a1a" stroke-width="0.15">OCH</text>
<line x1="943.5" y1="981.2" x2="932" y2="967.4" stroke="#222" stroke-width="0.9" stroke-linecap="butt"/>
<path d="M932 967.4 L935.88 970.02 L933.88 971.69 Z" fill="#222" stroke="#222" stroke-width="0.4"/>
<rect x="444.4" y="973.4" width="32" height="8.6" fill="#fff" stroke="#222" stroke-width="0.9"/>
<text style="white-space:pre" transform="translate(460.4,977.7) scale(0.8,1)" x="0" y="3.24" font-family="Liberation Sans" font-size="9" text-anchor="middle" font-weight="normal" fill="#1a1a1a">-0,300</text>
<line x1="476.4" y1="977" x2="482.4" y2="972.2" stroke="#333" stroke-width="0.7" stroke-linecap="butt"/>
<path d="M519.6 959.6 L515.4 969 H523.8 Z" fill="#111" stroke="#111" stroke-width="0.5"/>
<text style="white-space:pre" transform="translate(519.6,973.2) scale(0.75,1)" x="0" y="1.87" font-family="Liberation Sans" font-size="5.2" text-anchor="middle" font-weight="normal" fill="#1a1a1a">VSTUP</text>
<line x1="827" y1="366" x2="827" y2="407.5" stroke="#111" stroke-width="1.6" stroke-dasharray="7.5 1.6 0.8 1.6" stroke-linecap="butt"/>
<line x1="794" y1="379" x2="822" y2="379" stroke="#111" stroke-width="1.2" stroke-linecap="butt"/>
<path d="M827 379 L819 376.7 L819 381.3 Z" fill="#111" stroke="#111" stroke-width="0.6"/>
<text style="white-space:pre" transform="translate(810.7,399.3) scale(0.68,1)" x="0" y="0" font-family="Liberation Sans" font-size="22.2" text-anchor="middle" font-weight="normal" fill="#1a1a1a" stroke="#1a1a1a" stroke-width="0.5">A</text>
<line x1="827" y1="1058.5" x2="827" y2="1099.8" stroke="#111" stroke-width="1.6" stroke-dasharray="7.5 1.6 0.8 1.6" stroke-linecap="butt"/>
<line x1="794" y1="1091.3" x2="822" y2="1091.3" stroke="#111" stroke-width="1.2" stroke-linecap="butt"/>
<path d="M827 1091.3 L819 1089 L819 1093.6 Z" fill="#111" stroke="#111" stroke-width="0.6"/>
<text style="white-space:pre" transform="translate(810.7,1083.1) scale(0.68,1)" x="0" y="0" font-family="Liberation Sans" font-size="22.2" text-anchor="middle" font-weight="normal" fill="#1a1a1a" stroke="#1a1a1a" stroke-width="0.5">A</text>
<rect x="1060.1" y="360.9" width="198.9" height="166.7" fill="none" stroke="#111" stroke-width="1.8"/>
<line x1="1060.1" y1="379.9" x2="1259" y2="379.9" stroke="#111" stroke-width="1.8" stroke-linecap="butt"/>
<line x1="1060.1" y1="393.3" x2="1259" y2="393.3" stroke="#222" stroke-width="1.8" stroke-linecap="butt"/>
<line x1="1060.1" y1="406.7" x2="1259" y2="406.7" stroke="#222" stroke-width="1.4" stroke-linecap="butt"/>
<line x1="1060.1" y1="420.2" x2="1259" y2="420.2" stroke="#222" stroke-width="1.4" stroke-linecap="butt"/>
<line x1="1060.1" y1="433.6" x2="1259" y2="433.6" stroke="#222" stroke-width="1.4" stroke-linecap="butt"/>
<line x1="1060.1" y1="447" x2="1259" y2="447" stroke="#222" stroke-width="1.4" stroke-linecap="butt"/>
<line x1="1060.1" y1="460.4" x2="1259" y2="460.4" stroke="#222" stroke-width="1.4" stroke-linecap="butt"/>
<line x1="1060.1" y1="473.9" x2="1259" y2="473.9" stroke="#222" stroke-width="1.4" stroke-linecap="butt"/>
<line x1="1060.1" y1="487.3" x2="1259" y2="487.3" stroke="#222" stroke-width="1.4" stroke-linecap="butt"/>
<line x1="1060.1" y1="500.7" x2="1259" y2="500.7" stroke="#222" stroke-width="1.4" stroke-linecap="butt"/>
<line x1="1060.1" y1="514.1" x2="1259" y2="514.1" stroke="#222" stroke-width="1.4" stroke-linecap="butt"/>
<line x1="1092" y1="379.9" x2="1092" y2="527.6" stroke="#222" stroke-width="1.5" stroke-linecap="butt"/>
<line x1="1221.3" y1="379.9" x2="1221.3" y2="527.6" stroke="#222" stroke-width="1.5" stroke-linecap="butt"/>
<text style="white-space:pre" transform="translate(1062.7,375.2) scale(0.86,1)" x="0" y="0" font-family="Liberation Sans" font-size="13.5" text-anchor="start" font-weight="normal" fill="#1a1a1a" textLength="120.93" lengthAdjust="spacingAndGlyphs">Tabulka  místností</text>
<text style="white-space:pre" transform="translate(1062.5,390.3) scale(0.85,1)" x="0" y="0" font-family="Liberation Sans" font-size="9.5" text-anchor="start" font-weight="normal" fill="#1a1a1a">Číslo</text>
<text style="white-space:pre" transform="translate(1094.5,390.3) scale(0.85,1)" x="0" y="0" font-family="Liberation Sans" font-size="9.5" text-anchor="start" font-weight="normal" fill="#1a1a1a">Jméno</text>
<text style="white-space:pre" transform="translate(1223.8,390.3) scale(0.85,1)" x="0" y="0" font-family="Liberation Sans" font-size="9.5" text-anchor="start" font-weight="normal" fill="#1a1a1a">Plocha</text>
<text style="white-space:pre" transform="translate(1062.5,403.4) scale(0.8,1)" x="0" y="0" font-family="Liberation Sans" font-size="10.2" text-anchor="start" font-weight="normal" fill="#1a1a1a">1.01</text>
<text style="white-space:pre" transform="translate(1094.5,403.4) scale(0.76,1)" x="0" y="0" font-family="Liberation Sans" font-size="10.2" text-anchor="start" font-weight="normal" fill="#1a1a1a">ZÁDVEŘÍ</text>
<text style="white-space:pre" transform="translate(1223.8,403.4) scale(0.8,1)" x="0" y="0" font-family="Liberation Sans" font-size="10.2" text-anchor="start" font-weight="normal" fill="#1a1a1a">4,72</text>
<text style="white-space:pre" transform="translate(1062.5,416.82) scale(0.8,1)" x="0" y="0" font-family="Liberation Sans" font-size="10.2" text-anchor="start" font-weight="normal" fill="#1a1a1a">1.02</text>
<text style="white-space:pre" transform="translate(1094.5,416.82) scale(0.76,1)" x="0" y="0" font-family="Liberation Sans" font-size="10.2" text-anchor="start" font-weight="normal" fill="#1a1a1a">WC</text>
<text style="white-space:pre" transform="translate(1223.8,416.82) scale(0.8,1)" x="0" y="0" font-family="Liberation Sans" font-size="10.2" text-anchor="start" font-weight="normal" fill="#1a1a1a">1,5</text>
<text style="white-space:pre" transform="translate(1062.5,430.24) scale(0.8,1)" x="0" y="0" font-family="Liberation Sans" font-size="10.2" text-anchor="start" font-weight="normal" fill="#1a1a1a">1.03</text>
<text style="white-space:pre" transform="translate(1094.5,430.24) scale(0.76,1)" x="0" y="0" font-family="Liberation Sans" font-size="10.2" text-anchor="start" font-weight="normal" fill="#1a1a1a">TECHNICKÁ  MÍSTNOST</text>
<text style="white-space:pre" transform="translate(1223.8,430.24) scale(0.8,1)" x="0" y="0" font-family="Liberation Sans" font-size="10.2" text-anchor="start" font-weight="normal" fill="#1a1a1a">2,06</text>
<text style="white-space:pre" transform="translate(1062.5,443.66) scale(0.8,1)" x="0" y="0" font-family="Liberation Sans" font-size="10.2" text-anchor="start" font-weight="normal" fill="#1a1a1a">1.04</text>
<text style="white-space:pre" transform="translate(1094.5,443.66) scale(0.76,1)" x="0" y="0" font-family="Liberation Sans" font-size="10.2" text-anchor="start" font-weight="normal" fill="#1a1a1a">KUCHYNĚ</text>
<text style="white-space:pre" transform="translate(1223.8,443.66) scale(0.8,1)" x="0" y="0" font-family="Liberation Sans" font-size="10.2" text-anchor="start" font-weight="normal" fill="#1a1a1a">9,00</text>
<text style="white-space:pre" transform="translate(1062.5,457.08) scale(0.8,1)" x="0" y="0" font-family="Liberation Sans" font-size="10.2" text-anchor="start" font-weight="normal" fill="#1a1a1a">1.05</text>
<text style="white-space:pre" transform="translate(1094.5,457.08) scale(0.76,1)" x="0" y="0" font-family="Liberation Sans" font-size="10.2" text-anchor="start" font-weight="normal" fill="#1a1a1a">OBÝVACÍ  POKOJ  +  JÍDELNA</text>
<text style="white-space:pre" transform="translate(1223.8,457.08) scale(0.8,1)" x="0" y="0" font-family="Liberation Sans" font-size="10.2" text-anchor="start" font-weight="normal" fill="#1a1a1a">25,60</text>
<text style="white-space:pre" transform="translate(1062.5,470.5) scale(0.8,1)" x="0" y="0" font-family="Liberation Sans" font-size="10.2" text-anchor="start" font-weight="normal" fill="#1a1a1a">1.06</text>
<text style="white-space:pre" transform="translate(1094.5,470.5) scale(0.76,1)" x="0" y="0" font-family="Liberation Sans" font-size="10.2" text-anchor="start" font-weight="normal" fill="#1a1a1a">LOŽNICE</text>
<text style="white-space:pre" transform="translate(1223.8,470.5) scale(0.8,1)" x="0" y="0" font-family="Liberation Sans" font-size="10.2" text-anchor="start" font-weight="normal" fill="#1a1a1a">13,78</text>
<text style="white-space:pre" transform="translate(1062.5,483.92) scale(0.8,1)" x="0" y="0" font-family="Liberation Sans" font-size="10.2" text-anchor="start" font-weight="normal" fill="#1a1a1a">1.07</text>
<text style="white-space:pre" transform="translate(1094.5,483.92) scale(0.76,1)" x="0" y="0" font-family="Liberation Sans" font-size="10.2" text-anchor="start" font-weight="normal" fill="#1a1a1a">POKOJ</text>
<text style="white-space:pre" transform="translate(1223.8,483.92) scale(0.8,1)" x="0" y="0" font-family="Liberation Sans" font-size="10.2" text-anchor="start" font-weight="normal" fill="#1a1a1a">13,12</text>
<text style="white-space:pre" transform="translate(1062.5,497.34) scale(0.8,1)" x="0" y="0" font-family="Liberation Sans" font-size="10.2" text-anchor="start" font-weight="normal" fill="#1a1a1a">1.08</text>
<text style="white-space:pre" transform="translate(1094.5,497.34) scale(0.76,1)" x="0" y="0" font-family="Liberation Sans" font-size="10.2" text-anchor="start" font-weight="normal" fill="#1a1a1a">POKOJ</text>
<text style="white-space:pre" transform="translate(1223.8,497.34) scale(0.8,1)" x="0" y="0" font-family="Liberation Sans" font-size="10.2" text-anchor="start" font-weight="normal" fill="#1a1a1a">10,67</text>
<text style="white-space:pre" transform="translate(1062.5,510.76) scale(0.8,1)" x="0" y="0" font-family="Liberation Sans" font-size="10.2" text-anchor="start" font-weight="normal" fill="#1a1a1a">1.09</text>
<text style="white-space:pre" transform="translate(1094.5,510.76) scale(0.76,1)" x="0" y="0" font-family="Liberation Sans" font-size="10.2" text-anchor="start" font-weight="normal" fill="#1a1a1a">KOUPELNA</text>
<text style="white-space:pre" transform="translate(1223.8,510.76) scale(0.8,1)" x="0" y="0" font-family="Liberation Sans" font-size="10.2" text-anchor="start" font-weight="normal" fill="#1a1a1a">5,98</text>
<text style="white-space:pre" transform="translate(1062.5,524.18) scale(0.8,1)" x="0" y="0" font-family="Liberation Sans" font-size="10.2" text-anchor="start" font-weight="normal" fill="#1a1a1a">1.10</text>
<text style="white-space:pre" transform="translate(1094.5,524.18) scale(0.76,1)" x="0" y="0" font-family="Liberation Sans" font-size="10.2" text-anchor="start" font-weight="normal" fill="#1a1a1a">CHODBA</text>
<text style="white-space:pre" transform="translate(1223.8,524.18) scale(0.8,1)" x="0" y="0" font-family="Liberation Sans" font-size="10.2" text-anchor="start" font-weight="normal" fill="#1a1a1a">4,59</text>
<text style="white-space:pre" transform="translate(1059.7,541.5) scale(0.9,1)" x="0" y="0" font-family="Liberation Sans" font-size="9.8" text-anchor="start" font-weight="normal" fill="#1a1a1a" textLength="113.33" lengthAdjust="spacingAndGlyphs">Užitná  plocha:  91,02  m²</text>
<text style="white-space:pre" transform="translate(1059.7,554.1) scale(0.9,1)" x="0" y="0" font-family="Liberation Sans" font-size="9.8" text-anchor="start" font-weight="normal" fill="#1a1a1a" textLength="131.11" lengthAdjust="spacingAndGlyphs">Zastavěná  plocha:108,00  m²</text>
<text style="white-space:pre" transform="translate(1059.7,574.1) scale(0.86,1)" x="0" y="0" font-family="Liberation Sans" font-size="10.3" text-anchor="start" font-weight="normal" fill="#1a1a1a" textLength="107.91" lengthAdjust="spacingAndGlyphs">LEGENDA MATERIÁLŮ:</text>
<rect x="1060.6" y="581.9" width="22.6" height="11.2" fill="url(#leg)" stroke="#111" stroke-width="1.6"/>
<text style="white-space:pre" transform="translate(1090.3,590.6) scale(0.8,1)" x="0" y="0" font-family="Liberation Sans" font-size="8.2" text-anchor="start" font-weight="bold" fill="#1a1a1a" textLength="83.75" lengthAdjust="spacingAndGlyphs">TEPELNÁ IZOLACE EPS</text>
<rect x="1060.6" y="601.8" width="22.6" height="11" fill="#fff" stroke="#111" stroke-width="1.6"/>
<text style="white-space:pre" transform="translate(1090.3,610.3) scale(0.8,1)" x="0" y="0" font-family="Liberation Sans" font-size="8.2" text-anchor="start" font-weight="bold" fill="#1a1a1a" textLength="88.38" lengthAdjust="spacingAndGlyphs">STĚNOVÉ KONSTRUKCE</text>
<rect x="1060.6" y="619.6" width="22.6" height="11.1" fill="#fff" stroke="#111" stroke-width="1.6"/>
<line x1="1065.5" y1="629.5" x2="1071.5" y2="621" stroke="#111" stroke-width="1" stroke-linecap="butt"/>
<line x1="1071.5" y1="629.5" x2="1077.5" y2="621" stroke="#111" stroke-width="1" stroke-linecap="butt"/>
<text style="white-space:pre" transform="translate(1090.3,628.1) scale(0.8,1)" x="0" y="0" font-family="Liberation Sans" font-size="8.2" text-anchor="start" font-weight="bold" fill="#1a1a1a" textLength="125.88" lengthAdjust="spacingAndGlyphs">OPLÁŠTĚNÍ PROTIPOŽÁRNÍM SDK</text>
<circle cx="1070" cy="646.9" r="6.3" fill="#fff" stroke="#222" stroke-width="1.3"/>
<path d="M1065.6 651.3 L1074.4 642.5 A6.3 6.3 0 0 1 1065.6 651.3 Z" fill="#888" stroke="none" stroke-width="1"/>
<line x1="1065.6" y1="651.3" x2="1074.4" y2="642.5" stroke="#222" stroke-width="0.9" stroke-linecap="butt"/>
<text style="white-space:pre" transform="translate(1090.3,650.3) scale(0.8,1)" x="0" y="0" font-family="Liberation Sans" font-size="8.2" text-anchor="start" font-weight="bold" fill="#1a1a1a" textLength="102.38" lengthAdjust="spacingAndGlyphs">3V NEREZOVÝ KOMÍN CIKO</text>
<text style="white-space:pre" transform="translate(1059.7,675) scale(0.86,1)" x="0" y="0" font-family="Liberation Sans" font-size="10.3" text-anchor="start" font-weight="normal" fill="#1a1a1a" textLength="55.81" lengthAdjust="spacingAndGlyphs">POZNÁMKA</text>
<circle cx="1066.3" cy="691.5" r="10.3" fill="#fff" stroke="#222" stroke-width="1"/>
<text style="white-space:pre" transform="translate(1066.3,691.5) scale(0.78,1)" x="0" y="2.95" font-family="Liberation Sans" font-size="8.2" text-anchor="middle" font-weight="normal" fill="#1a1a1a">OCH</text>
<text style="white-space:pre" transform="translate(1081.6,693.8) scale(0.8,1)" x="0" y="0" font-family="Liberation Sans" font-size="8.2" text-anchor="start" font-weight="bold" fill="#1a1a1a" textLength="231.25" lengthAdjust="spacingAndGlyphs">OKAPOVÝ CHODNÍK A DRENÁŽ NEJSOU SOUČÁSTÍ ROZPOČTU</text>
<circle cx="1067" cy="717" r="6.6" fill="#fff" stroke="#222" stroke-width="1"/>
<text style="white-space:pre" transform="translate(1067,717) scale(0.8,1)" x="0" y="2.95" font-family="Liberation Sans" font-size="8.2" text-anchor="middle" font-weight="bold" fill="#1a1a1a">RD</text>
<text style="white-space:pre" transform="translate(1082.4,719.6) scale(0.8,1)" x="0" y="0" font-family="Liberation Sans" font-size="8.2" text-anchor="start" font-weight="bold" fill="#1a1a1a" textLength="94.5" lengthAdjust="spacingAndGlyphs">REVIZNÍ VSTUP NA PŮDU</text>
<text style="white-space:pre" transform="translate(1059.4,736) scale(0.8,1)" x="0" y="0" font-family="Liberation Sans" font-size="8.2" text-anchor="start" font-weight="bold" fill="#1a1a1a" textLength="240.75" lengthAdjust="spacingAndGlyphs">NA PŮDĚ BUDE ZBUDOVÁNA POCHŮZÍ PODLAHA O PLOŠE 10m²</text>
<text style="white-space:pre" transform="translate(1059.4,747.6) scale(0.8,1)" x="0" y="0" font-family="Liberation Sans" font-size="8.2" text-anchor="start" font-weight="bold" fill="#1a1a1a" textLength="334.5" lengthAdjust="spacingAndGlyphs">DOKUMENTACE JE VYPRACOVÁNA PRO SPOLEČNOU ŽÁDOST O ÚZEMNÍ ROZHODNUTÍ A</text>
<text style="white-space:pre" transform="translate(1059.4,759) scale(0.8,1)" x="0" y="0" font-family="Liberation Sans" font-size="8.2" text-anchor="start" font-weight="bold" fill="#1a1a1a" textLength="219.5" lengthAdjust="spacingAndGlyphs">STAVEBNÍ POVOLENÍ, NESLOUŽÍ PRO PROVEDENÍ STAVBY.</text>
<text style="white-space:pre" transform="translate(1059.4,770.6) scale(0.8,1)" x="0" y="0" font-family="Liberation Sans" font-size="8.2" text-anchor="start" font-weight="bold" fill="#1a1a1a" textLength="325.75" lengthAdjust="spacingAndGlyphs">PRO PROVEDENÍ STAVBY BUDE SLOUŽIT DALŠÍ STUPEŇ PROJEKTOVÉ DOKUMENTACE -</text>
<text style="white-space:pre" transform="translate(1059.4,782.4) scale(0.8,1)" x="0" y="0" font-family="Liberation Sans" font-size="8.2" text-anchor="start" font-weight="bold" fill="#1a1a1a" textLength="159.5" lengthAdjust="spacingAndGlyphs">DOKUMENTACE PRO PORVEDENÍ STAVBY.</text>
<text style="white-space:pre" transform="translate(1342.7,580.2) scale(0.85,1)" x="0" y="0" font-family="Liberation Sans" font-size="7.6" text-anchor="start" font-weight="normal" fill="#1a1a1a" textLength="63.88" lengthAdjust="spacingAndGlyphs">STĚNA TL. 325mm</text>
<text style="white-space:pre" transform="translate(1357,590.3) scale(0.85,1)" x="0" y="0" font-family="Liberation Sans" font-size="8" text-anchor="start" font-weight="normal" fill="#1a1a1a" textLength="226.35" lengthAdjust="spacingAndGlyphs">Dřevěná rámová konstrukce hoblovaný Hranol 160 mm x 60 mm</text>
<text style="white-space:pre" transform="translate(1357,600.7) scale(0.85,1)" x="0" y="0" font-family="Liberation Sans" font-size="8" text-anchor="start" font-weight="normal" fill="#1a1a1a" textLength="156.47" lengthAdjust="spacingAndGlyphs">Vnější opláštění deskami Fermacell 12,5 mm</text>
<text style="white-space:pre" transform="translate(1357,611.1) scale(0.85,1)" x="0" y="0" font-family="Liberation Sans" font-size="8" text-anchor="start" font-weight="normal" fill="#1a1a1a" textLength="159.18" lengthAdjust="spacingAndGlyphs">Minerální izolace tl. 160 mm λ=0,035 W/(mK)</text>
<text style="white-space:pre" transform="translate(1357,621.5) scale(0.85,1)" x="0" y="0" font-family="Liberation Sans" font-size="8" text-anchor="start" font-weight="normal" fill="#1a1a1a" textLength="52.59" lengthAdjust="spacingAndGlyphs">Parotěsná folie</text>
<text style="white-space:pre" transform="translate(1357,631.9) scale(0.85,1)" x="0" y="0" font-family="Liberation Sans" font-size="8" text-anchor="start" font-weight="normal" fill="#1a1a1a" textLength="192.12" lengthAdjust="spacingAndGlyphs">Vnitřní předstěna 60×40 ( popřípadě dle potřeby větší)</text>
<text style="white-space:pre" transform="translate(1357,642.3) scale(0.85,1)" x="0" y="0" font-family="Liberation Sans" font-size="8" text-anchor="start" font-weight="normal" fill="#1a1a1a" textLength="159.18" lengthAdjust="spacingAndGlyphs">Vnitřní opláštění deskami Fermacell 12,5 mm</text>
<text style="white-space:pre" transform="translate(1357,652.7) scale(0.85,1)" x="0" y="0" font-family="Liberation Sans" font-size="8" text-anchor="start" font-weight="normal" fill="#1a1a1a" textLength="82.35" lengthAdjust="spacingAndGlyphs">Zatmelení a zabroušení</text>
<text style="white-space:pre" transform="translate(1357,663.1) scale(0.85,1)" x="0" y="0" font-family="Liberation Sans" font-size="8" text-anchor="start" font-weight="normal" fill="#1a1a1a" textLength="108.24" lengthAdjust="spacingAndGlyphs">Malba bílá – základní (2 vrstvy)</text>
<text style="white-space:pre" transform="translate(1357,673.5) scale(0.85,1)" x="0" y="0" font-family="Liberation Sans" font-size="8" text-anchor="start" font-weight="normal" fill="#1a1a1a" textLength="64.94" lengthAdjust="spacingAndGlyphs">Spojovací materiál</text>
<text style="white-space:pre" transform="translate(1357,683.9) scale(0.85,1)" x="0" y="0" font-family="Liberation Sans" font-size="8" text-anchor="start" font-weight="normal" fill="#1a1a1a" textLength="242.59" lengthAdjust="spacingAndGlyphs">Tepelně izolační desky – polystyren fasádní 100 mm λ=0,039 W/(mK)</text>
<text style="white-space:pre" transform="translate(1357,694.3) scale(0.85,1)" x="0" y="0" font-family="Liberation Sans" font-size="8" text-anchor="start" font-weight="normal" fill="#1a1a1a" textLength="210" lengthAdjust="spacingAndGlyphs">Omítka akrylátová, silikátová probarvená v barvě dle výběru</text>
<text style="white-space:pre" transform="translate(1358.7,704.7) scale(0.85,1)" x="0" y="0" font-family="Liberation Sans" font-size="8" text-anchor="start" font-weight="normal" fill="#1a1a1a" textLength="54.47" lengthAdjust="spacingAndGlyphs">Kotvicí materiál</text>
<text style="white-space:pre" transform="translate(1056,830) scale(0.82,1)" x="0" y="0" font-family="Liberation Sans" font-size="10.8" text-anchor="start" font-weight="bold" fill="#1a1a1a" textLength="162.93" lengthAdjust="spacingAndGlyphs">SKLADBY SVISLÝCH KONSTRUKCÍ</text>
<text style="white-space:pre" transform="translate(1044,844.4) scale(0.85,1)" x="0" y="0" font-family="Liberation Sans" font-size="7.6" text-anchor="start" font-weight="normal" fill="#1a1a1a" textLength="63.53" lengthAdjust="spacingAndGlyphs">STĚNA TL. 125mm</text>
<text style="white-space:pre" transform="translate(1067.4,855.6) scale(0.92,1)" x="0" y="0" font-family="Liberation Sans" font-size="10" text-anchor="start" font-weight="normal" fill="#1a1a1a" textLength="298.04" lengthAdjust="spacingAndGlyphs">Dřevěná rámová konstrukce hoblovaný hranol 100 mm x 60 mm</text>
<text style="white-space:pre" transform="translate(1065.6,867) scale(0.92,1)" x="0" y="0" font-family="Liberation Sans" font-size="10" text-anchor="start" font-weight="normal" fill="#1a1a1a" textLength="239.35" lengthAdjust="spacingAndGlyphs">Oboustranné opláštění deskami Fermacell 12,5 mm</text>
<text style="white-space:pre" transform="translate(1065.6,878.8) scale(0.92,1)" x="0" y="0" font-family="Liberation Sans" font-size="10" text-anchor="start" font-weight="normal" fill="#1a1a1a" textLength="202.17" lengthAdjust="spacingAndGlyphs">Minerální izolace tl. 80 mmλ=0,035 W/(mK)</text>
<text style="white-space:pre" transform="translate(1065.6,890.2) scale(0.92,1)" x="0" y="0" font-family="Liberation Sans" font-size="10" text-anchor="start" font-weight="normal" fill="#1a1a1a" textLength="108.48" lengthAdjust="spacingAndGlyphs">Zatmelení a zabroušení</text>
<text style="white-space:pre" transform="translate(1067.4,901.9) scale(0.92,1)" x="0" y="0" font-family="Liberation Sans" font-size="10" text-anchor="start" font-weight="normal" fill="#1a1a1a" textLength="85.22" lengthAdjust="spacingAndGlyphs">Spojovací materiál</text>
<path d="M1346 824.3 H1574 V927.6 H1346 Z M1473.5 824.3 V927.6" fill="none" stroke="#bbb" stroke-width="0.7" stroke-dasharray="1 1.6"/>
</svg></body></html>
